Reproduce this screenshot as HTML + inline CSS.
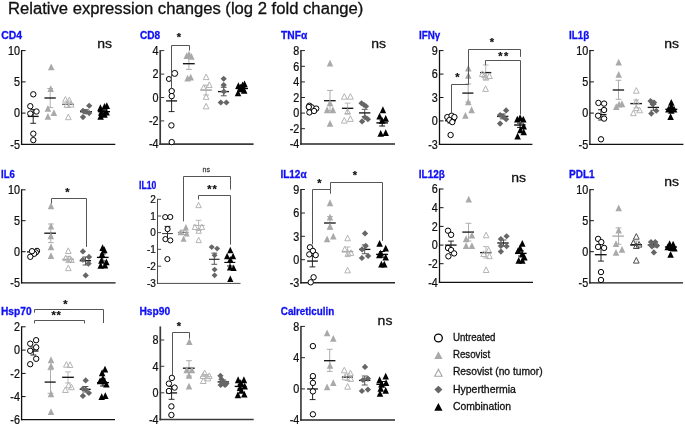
<!DOCTYPE html>
<html lang="en">
<head>
<meta charset="utf-8">
<title>Relative expression changes (log 2 fold change)</title>
<style>
html,body{margin:0;padding:0;background:#fff;}
body{width:685px;height:426px;overflow:hidden;font-family:"Liberation Sans",Arial,sans-serif;}
svg{display:block;}
</style>
</head>
<body>
<svg width="685" height="426" viewBox="0 0 685 426" font-family="Liberation Sans, Arial, Helvetica, sans-serif">
<rect width="685" height="426" fill="#fff"/>
<text x="8" y="13.8" font-size="15.8" fill="#111" stroke="#111" stroke-width="0.3" textLength="355.2" lengthAdjust="spacingAndGlyphs">Relative expression changes (log 2 fold change)</text>
<g>
<text x="1.2" y="38.7" font-size="10.2" fill="#1010f5" stroke="#1010f5" stroke-width="0.3" font-weight="bold" textLength="20.8" lengthAdjust="spacingAndGlyphs">CD4</text>
<line x1="21.6" y1="50.1" x2="21.6" y2="145.05" stroke="#111" stroke-width="1.3"/><line x1="20.95" y1="144.4" x2="115.3" y2="144.4" stroke="#111" stroke-width="1.3"/><line x1="21.6" y1="50.6" x2="25.6" y2="50.6" stroke="#111" stroke-width="1.0"/><text transform="translate(19.9 54.85) scale(0.9 1)" font-size="12" fill="#111" stroke="#111" stroke-width="0.25" text-anchor="end">10</text><line x1="21.6" y1="81.9" x2="25.6" y2="81.9" stroke="#111" stroke-width="1.0"/><text transform="translate(19.9 86.15) scale(0.9 1)" font-size="12" fill="#111" stroke="#111" stroke-width="0.25" text-anchor="end">5</text><line x1="21.6" y1="113.1" x2="25.6" y2="113.1" stroke="#111" stroke-width="1.0"/><text transform="translate(19.9 117.35) scale(0.9 1)" font-size="12" fill="#111" stroke="#111" stroke-width="0.25" text-anchor="end">0</text><text transform="translate(19.9 148.65) scale(0.9 1)" font-size="12" fill="#111" stroke="#111" stroke-width="0.25" text-anchor="end">-5</text>
<line x1="33.2" y1="109.6" x2="33.2" y2="123.3" stroke="#1a1a1a" stroke-width="0.95"/><line x1="30.3" y1="109.6" x2="36.1" y2="109.6" stroke="#1a1a1a" stroke-width="0.95"/><line x1="30.3" y1="123.3" x2="36.1" y2="123.3" stroke="#1a1a1a" stroke-width="0.95"/><line x1="27.7" y1="116.4" x2="38.7" y2="116.4" stroke="#1a1a1a" stroke-width="1.35"/><circle cx="33.3" cy="94.3" r="2.7" fill="#fff" stroke="#000000" stroke-width="1.0"/><circle cx="30.3" cy="106.2" r="2.7" fill="#fff" stroke="#000000" stroke-width="1.0"/><circle cx="36.5" cy="111.5" r="2.7" fill="#fff" stroke="#000000" stroke-width="1.0"/><circle cx="30.3" cy="113.6" r="2.7" fill="#fff" stroke="#000000" stroke-width="1.0"/><circle cx="33.3" cy="133.7" r="2.7" fill="#fff" stroke="#000000" stroke-width="1.0"/><circle cx="33.3" cy="140.1" r="2.7" fill="#fff" stroke="#000000" stroke-width="1.0"/>
<line x1="50.2" y1="88.5" x2="50.2" y2="107.6" stroke="#a9a9a9" stroke-width="0.95"/><line x1="47.3" y1="88.5" x2="53.1" y2="88.5" stroke="#a9a9a9" stroke-width="0.95"/><line x1="47.3" y1="107.6" x2="53.1" y2="107.6" stroke="#a9a9a9" stroke-width="0.95"/><line x1="44.4" y1="98" x2="55.8" y2="98" stroke="#1a1a1a" stroke-width="1.35"/><polygon points="51.2,63.55 47.95,70.35 54.45,70.35" fill="#a9a9a9"/><polygon points="50.7,85.25 47.45,92.05 53.95,92.05" fill="#a9a9a9"/><polygon points="47.9,104.95 44.65,111.75 51.15,111.75" fill="#a9a9a9"/><polygon points="53.9,109.25 50.65,116.05 57.15,116.05" fill="#a9a9a9"/><polygon points="47.9,113.05 44.65,119.85 51.15,119.85" fill="#a9a9a9"/>
<line x1="68" y1="101" x2="68" y2="107.5" stroke="#b4b4b4" stroke-width="0.95"/><line x1="65.1" y1="101" x2="70.9" y2="101" stroke="#b4b4b4" stroke-width="0.95"/><line x1="65.1" y1="107.5" x2="70.9" y2="107.5" stroke="#b4b4b4" stroke-width="0.95"/><line x1="62" y1="104.3" x2="74" y2="104.3" stroke="#777" stroke-width="1.35"/><polygon points="65.4,96.5 62.55,102.1 68.25,102.1" fill="none" stroke="#b4b4b4" stroke-width="1.0" stroke-linejoin="miter"/><polygon points="69.3,97.2 66.45,102.8 72.15,102.8" fill="none" stroke="#b4b4b4" stroke-width="1.0" stroke-linejoin="miter"/><polygon points="71.1,101.5 68.25,107.1 73.95,107.1" fill="none" stroke="#b4b4b4" stroke-width="1.0" stroke-linejoin="miter"/><polygon points="67,101.7 64.15,107.3 69.85,107.3" fill="none" stroke="#b4b4b4" stroke-width="1.0" stroke-linejoin="miter"/><polygon points="68.3,114.1 65.45,119.7 71.15,119.7" fill="none" stroke="#b4b4b4" stroke-width="1.0" stroke-linejoin="miter"/>
<line x1="86" y1="109.8" x2="86" y2="113.6" stroke="#4d4d4d" stroke-width="0.95"/><line x1="83.1" y1="109.8" x2="88.9" y2="109.8" stroke="#4d4d4d" stroke-width="0.95"/><line x1="83.1" y1="113.6" x2="88.9" y2="113.6" stroke="#4d4d4d" stroke-width="0.95"/><line x1="80" y1="111.7" x2="92" y2="111.7" stroke="#1a1a1a" stroke-width="1.35"/><polygon points="89.2,102.65 92.35,105.7 89.2,108.75 86.05,105.7" fill="#666666"/><polygon points="83,107.65 86.15,110.7 83,113.75 79.85,110.7" fill="#666666"/><polygon points="86.1,108.65 89.25,111.7 86.1,114.75 82.95,111.7" fill="#666666"/><polygon points="89.2,110.05 92.35,113.1 89.2,116.15 86.05,113.1" fill="#666666"/><polygon points="83,114.05 86.15,117.1 83,120.15 79.85,117.1" fill="#666666"/>
<line x1="104" y1="110.3" x2="104" y2="113.1" stroke="#000" stroke-width="0.95"/><line x1="101.1" y1="110.3" x2="106.9" y2="110.3" stroke="#000" stroke-width="0.95"/><line x1="101.1" y1="113.1" x2="106.9" y2="113.1" stroke="#000" stroke-width="0.95"/><line x1="98" y1="111.7" x2="110" y2="111.7" stroke="#000" stroke-width="1.35"/><polygon points="100.4,104.35 97.15,111.15 103.65,111.15" fill="#000000"/><polygon points="104.5,103.05 101.25,109.85 107.75,109.85" fill="#000000"/><polygon points="106.8,102.25 103.55,109.05 110.05,109.05" fill="#000000"/><polygon points="100.6,112.85 97.35,119.65 103.85,119.65" fill="#000000"/><polygon points="104.5,110.85 101.25,117.65 107.75,117.65" fill="#000000"/><polygon points="106.6,108.75 103.35,115.55 109.85,115.55" fill="#000000"/><polygon points="101.2,108.85 97.95,115.65 104.45,115.65" fill="#000000"/>
<text x="97.2" y="47.6" font-size="13" fill="#111" stroke="#111" stroke-width="0.3" textLength="14.8" lengthAdjust="spacingAndGlyphs">ns</text>
</g>
<g>
<text x="140" y="38.7" font-size="10.2" fill="#1010f5" stroke="#1010f5" stroke-width="0.3" font-weight="bold" textLength="20.2" lengthAdjust="spacingAndGlyphs">CD8</text>
<line x1="160.2" y1="50.1" x2="160.2" y2="145.05" stroke="#3a3a3a" stroke-width="1.7"/><line x1="159.35" y1="144.2" x2="253.6" y2="144.2" stroke="#3a3a3a" stroke-width="1.7"/><line x1="160.2" y1="50.6" x2="164.2" y2="50.6" stroke="#3a3a3a" stroke-width="1.0"/><text transform="translate(158.5 54.85) scale(0.9 1)" font-size="12" fill="#111" stroke="#111" stroke-width="0.25" text-anchor="end">4</text><line x1="160.2" y1="74.1" x2="164.2" y2="74.1" stroke="#3a3a3a" stroke-width="1.0"/><text transform="translate(158.5 78.35) scale(0.9 1)" font-size="12" fill="#111" stroke="#111" stroke-width="0.25" text-anchor="end">2</text><line x1="160.2" y1="97.5" x2="164.2" y2="97.5" stroke="#3a3a3a" stroke-width="1.0"/><text transform="translate(158.5 101.75) scale(0.9 1)" font-size="12" fill="#111" stroke="#111" stroke-width="0.25" text-anchor="end">0</text><line x1="160.2" y1="120.9" x2="164.2" y2="120.9" stroke="#3a3a3a" stroke-width="1.0"/><text transform="translate(158.5 125.15) scale(0.9 1)" font-size="12" fill="#111" stroke="#111" stroke-width="0.25" text-anchor="end">-2</text><text transform="translate(158.5 148.45) scale(0.9 1)" font-size="12" fill="#111" stroke="#111" stroke-width="0.25" text-anchor="end">-4</text>
<text x="178.9" y="40.9" font-size="11" fill="#111" stroke="#111" stroke-width="0.25" font-weight="bold" text-anchor="middle">*</text>
<line x1="171.6" y1="90.2" x2="171.6" y2="111.6" stroke="#1a1a1a" stroke-width="0.95"/><line x1="168.7" y1="90.2" x2="174.5" y2="90.2" stroke="#1a1a1a" stroke-width="0.95"/><line x1="168.7" y1="111.6" x2="174.5" y2="111.6" stroke="#1a1a1a" stroke-width="0.95"/><line x1="166.1" y1="100.9" x2="177.1" y2="100.9" stroke="#1a1a1a" stroke-width="1.35"/><circle cx="174.7" cy="73.4" r="3" fill="#fff" stroke="#000000" stroke-width="1.0"/><circle cx="168.9" cy="79" r="2.5" fill="#fff" stroke="#000000" stroke-width="1.0"/><circle cx="171.7" cy="91.1" r="2.7" fill="#fff" stroke="#000000" stroke-width="1.0"/><circle cx="171.7" cy="96.1" r="2.7" fill="#fff" stroke="#000000" stroke-width="1.0"/><circle cx="171.4" cy="125.4" r="2.7" fill="#fff" stroke="#000000" stroke-width="1.0"/><circle cx="171.7" cy="142.1" r="2.7" fill="#fff" stroke="#000000" stroke-width="1.0"/>
<line x1="188.9" y1="58" x2="188.9" y2="69.4" stroke="#a9a9a9" stroke-width="0.95"/><line x1="186" y1="58" x2="191.8" y2="58" stroke="#a9a9a9" stroke-width="0.95"/><line x1="186" y1="69.4" x2="191.8" y2="69.4" stroke="#a9a9a9" stroke-width="0.95"/><line x1="182.9" y1="63.7" x2="194.7" y2="63.7" stroke="#1a1a1a" stroke-width="1.35"/><polygon points="186.7,52.25 183.45,59.05 189.95,59.05" fill="#a9a9a9"/><polygon points="191.4,52.95 188.15,59.75 194.65,59.75" fill="#a9a9a9"/><polygon points="189,50.75 185.75,57.55 192.25,57.55" fill="#a9a9a9"/><polygon points="187.6,74.65 184.35,81.45 190.85,81.45" fill="#a9a9a9"/><polygon points="190.7,73.65 187.45,80.45 193.95,80.45" fill="#a9a9a9"/>
<line x1="206.1" y1="85.2" x2="206.1" y2="95" stroke="#b4b4b4" stroke-width="0.95"/><line x1="203.2" y1="85.2" x2="209" y2="85.2" stroke="#b4b4b4" stroke-width="0.95"/><line x1="203.2" y1="95" x2="209" y2="95" stroke="#b4b4b4" stroke-width="0.95"/><line x1="200.4" y1="90.1" x2="211.9" y2="90.1" stroke="#999" stroke-width="1.35"/><polygon points="206.1,74 203.25,79.6 208.95,79.6" fill="none" stroke="#b4b4b4" stroke-width="1.0" stroke-linejoin="miter"/><polygon points="209.3,81.9 206.45,87.5 212.15,87.5" fill="none" stroke="#b4b4b4" stroke-width="1.0" stroke-linejoin="miter"/><polygon points="203.6,84.7 200.75,90.3 206.45,90.3" fill="none" stroke="#b4b4b4" stroke-width="1.0" stroke-linejoin="miter"/><polygon points="206.1,93.8 203.25,99.4 208.95,99.4" fill="none" stroke="#b4b4b4" stroke-width="1.0" stroke-linejoin="miter"/><polygon points="206.1,103.3 203.25,108.9 208.95,108.9" fill="none" stroke="#b4b4b4" stroke-width="1.0" stroke-linejoin="miter"/>
<line x1="223.7" y1="87.3" x2="223.7" y2="95.8" stroke="#4d4d4d" stroke-width="0.95"/><line x1="220.8" y1="87.3" x2="226.6" y2="87.3" stroke="#4d4d4d" stroke-width="0.95"/><line x1="220.8" y1="95.8" x2="226.6" y2="95.8" stroke="#4d4d4d" stroke-width="0.95"/><line x1="217.9" y1="91.6" x2="229" y2="91.6" stroke="#1a1a1a" stroke-width="1.35"/><polygon points="223.7,75.65 226.85,78.7 223.7,81.75 220.55,78.7" fill="#666666"/><polygon points="223.7,82.05 226.85,85.1 223.7,88.15 220.55,85.1" fill="#666666"/><polygon points="223.9,88.55 227.05,91.6 223.9,94.65 220.75,91.6" fill="#666666"/><polygon points="220.8,99.45 223.95,102.5 220.8,105.55 217.65,102.5" fill="#666666"/><polygon points="226.4,99.45 229.55,102.5 226.4,105.55 223.25,102.5" fill="#666666"/>
<line x1="242" y1="87" x2="242" y2="90" stroke="#000" stroke-width="0.95"/><line x1="239.1" y1="87" x2="244.9" y2="87" stroke="#000" stroke-width="0.95"/><line x1="239.1" y1="90" x2="244.9" y2="90" stroke="#000" stroke-width="0.95"/><line x1="236" y1="88.5" x2="248" y2="88.5" stroke="#000" stroke-width="1.35"/><polygon points="238.4,82.25 235.15,89.05 241.65,89.05" fill="#000000"/><polygon points="242.6,81.55 239.35,88.35 245.85,88.35" fill="#000000"/><polygon points="244.5,80.45 241.25,87.25 247.75,87.25" fill="#000000"/><polygon points="244.2,86.85 240.95,93.65 247.45,93.65" fill="#000000"/><polygon points="238,89.45 234.75,96.25 241.25,96.25" fill="#000000"/><polygon points="241.2,85.35 237.95,92.15 244.45,92.15" fill="#000000"/><polygon points="240.5,83.85 237.25,90.65 243.75,90.65" fill="#000000"/>
<polyline points="171.5,88.5 171.5,45.5 189.5,45.5 189.5,50.5" fill="none" stroke="#555" stroke-width="1.0"/>
</g>
<g>
<text x="281" y="38.7" font-size="10.2" fill="#1010f5" stroke="#1010f5" stroke-width="0.3" font-weight="bold" textLength="26.2" lengthAdjust="spacingAndGlyphs">TNFα</text>
<line x1="300.95" y1="50.1" x2="300.95" y2="144.75" stroke="#262626" stroke-width="1.5"/><line x1="300.2" y1="144" x2="395" y2="144" stroke="#262626" stroke-width="1.5"/><line x1="300.95" y1="50.6" x2="304.95" y2="50.6" stroke="#262626" stroke-width="1.0"/><text transform="translate(299.25 54.85) scale(0.9 1)" font-size="12" fill="#111" stroke="#111" stroke-width="0.25" text-anchor="end">8</text><line x1="300.95" y1="66.3" x2="304.95" y2="66.3" stroke="#262626" stroke-width="1.0"/><text transform="translate(299.25 70.55) scale(0.9 1)" font-size="12" fill="#111" stroke="#111" stroke-width="0.25" text-anchor="end">6</text><line x1="300.95" y1="81.9" x2="304.95" y2="81.9" stroke="#262626" stroke-width="1.0"/><text transform="translate(299.25 86.15) scale(0.9 1)" font-size="12" fill="#111" stroke="#111" stroke-width="0.25" text-anchor="end">4</text><line x1="300.95" y1="97.5" x2="304.95" y2="97.5" stroke="#262626" stroke-width="1.0"/><text transform="translate(299.25 101.75) scale(0.9 1)" font-size="12" fill="#111" stroke="#111" stroke-width="0.25" text-anchor="end">2</text><line x1="300.95" y1="113.1" x2="304.95" y2="113.1" stroke="#262626" stroke-width="1.0"/><text transform="translate(299.25 117.35) scale(0.9 1)" font-size="12" fill="#111" stroke="#111" stroke-width="0.25" text-anchor="end">0</text><line x1="300.95" y1="128.7" x2="304.95" y2="128.7" stroke="#262626" stroke-width="1.0"/><text transform="translate(299.25 132.95) scale(0.9 1)" font-size="12" fill="#111" stroke="#111" stroke-width="0.25" text-anchor="end">-2</text><text transform="translate(299.25 148.25) scale(0.9 1)" font-size="12" fill="#111" stroke="#111" stroke-width="0.25" text-anchor="end">-4</text>
<line x1="312.5" y1="108.5" x2="312.5" y2="111" stroke="#1a1a1a" stroke-width="0.95"/><line x1="309.6" y1="108.5" x2="315.4" y2="108.5" stroke="#1a1a1a" stroke-width="0.95"/><line x1="309.6" y1="111" x2="315.4" y2="111" stroke="#1a1a1a" stroke-width="0.95"/><line x1="307" y1="109.8" x2="318" y2="109.8" stroke="#1a1a1a" stroke-width="1.35"/><circle cx="309.4" cy="105.7" r="2.7" fill="#fff" stroke="#000000" stroke-width="1.0"/><circle cx="311.8" cy="107.4" r="2.7" fill="#fff" stroke="#000000" stroke-width="1.0"/><circle cx="316.2" cy="108.6" r="2.7" fill="#fff" stroke="#000000" stroke-width="1.0"/><circle cx="309.4" cy="112.4" r="2.7" fill="#fff" stroke="#000000" stroke-width="1.0"/><circle cx="314.1" cy="111" r="2.7" fill="#fff" stroke="#000000" stroke-width="1.0"/><circle cx="308.8" cy="107" r="2.7" fill="#fff" stroke="#000000" stroke-width="1.0"/>
<line x1="330" y1="90.4" x2="330" y2="111" stroke="#a9a9a9" stroke-width="0.95"/><line x1="327.1" y1="90.4" x2="332.9" y2="90.4" stroke="#a9a9a9" stroke-width="0.95"/><line x1="327.1" y1="111" x2="332.9" y2="111" stroke="#a9a9a9" stroke-width="0.95"/><line x1="324" y1="100.7" x2="335.7" y2="100.7" stroke="#1a1a1a" stroke-width="1.35"/><polygon points="330,59.65 326.75,66.45 333.25,66.45" fill="#a9a9a9"/><polygon points="327.1,106.35 323.85,113.15 330.35,113.15" fill="#a9a9a9"/><polygon points="332.9,106.35 329.65,113.15 336.15,113.15" fill="#a9a9a9"/><polygon points="330,119.95 326.75,126.75 333.25,126.75" fill="#a9a9a9"/><polygon points="330,99.35 326.75,106.15 333.25,106.15" fill="#a9a9a9"/>
<line x1="347.6" y1="103.1" x2="347.6" y2="113.5" stroke="#b4b4b4" stroke-width="0.95"/><line x1="344.7" y1="103.1" x2="350.5" y2="103.1" stroke="#b4b4b4" stroke-width="0.95"/><line x1="344.7" y1="113.5" x2="350.5" y2="113.5" stroke="#b4b4b4" stroke-width="0.95"/><line x1="341.9" y1="108.3" x2="353.3" y2="108.3" stroke="#1a1a1a" stroke-width="1.35"/><polygon points="344.3,93.6 341.45,99.2 347.15,99.2" fill="none" stroke="#b4b4b4" stroke-width="1.0" stroke-linejoin="miter"/><polygon points="350.4,93.6 347.55,99.2 353.25,99.2" fill="none" stroke="#b4b4b4" stroke-width="1.0" stroke-linejoin="miter"/><polygon points="347.6,108.6 344.75,114.2 350.45,114.2" fill="none" stroke="#b4b4b4" stroke-width="1.0" stroke-linejoin="miter"/><polygon points="344.3,117.5 341.45,123.1 347.15,123.1" fill="none" stroke="#b4b4b4" stroke-width="1.0" stroke-linejoin="miter"/><polygon points="350.4,115.8 347.55,121.4 353.25,121.4" fill="none" stroke="#b4b4b4" stroke-width="1.0" stroke-linejoin="miter"/>
<line x1="364.7" y1="109.3" x2="364.7" y2="116.5" stroke="#4d4d4d" stroke-width="0.95"/><line x1="361.8" y1="109.3" x2="367.6" y2="109.3" stroke="#4d4d4d" stroke-width="0.95"/><line x1="361.8" y1="116.5" x2="367.6" y2="116.5" stroke="#4d4d4d" stroke-width="0.95"/><line x1="359" y1="112.9" x2="370.4" y2="112.9" stroke="#1a1a1a" stroke-width="1.35"/><polygon points="361.5,100.25 364.65,103.3 361.5,106.35 358.35,103.3" fill="#666666"/><polygon points="363.8,101.75 366.95,104.8 363.8,107.85 360.65,104.8" fill="#666666"/><polygon points="366,103.25 369.15,106.3 366,109.35 362.85,106.3" fill="#666666"/><polygon points="362.1,118.35 365.25,121.4 362.1,124.45 358.95,121.4" fill="#666666"/><polygon points="367.9,116.25 371.05,119.3 367.9,122.35 364.75,119.3" fill="#666666"/><polygon points="365,114.25 368.15,117.3 365,120.35 361.85,117.3" fill="#666666"/>
<line x1="382.2" y1="120" x2="382.2" y2="126" stroke="#000" stroke-width="0.95"/><line x1="379.3" y1="120" x2="385.1" y2="120" stroke="#000" stroke-width="0.95"/><line x1="379.3" y1="126" x2="385.1" y2="126" stroke="#000" stroke-width="0.95"/><line x1="376.4" y1="122.9" x2="387.9" y2="122.9" stroke="#000" stroke-width="1.35"/><polygon points="382.9,106.35 379.65,113.15 386.15,113.15" fill="#000000"/><polygon points="379.6,112.75 376.35,119.55 382.85,119.55" fill="#000000"/><polygon points="385.7,114.95 382.45,121.75 388.95,121.75" fill="#000000"/><polygon points="382.1,117.05 378.85,123.85 385.35,123.85" fill="#000000"/><polygon points="385.7,129.25 382.45,136.05 388.95,136.05" fill="#000000"/><polygon points="380.7,129.95 377.45,136.75 383.95,136.75" fill="#000000"/>
<text x="371.2" y="47.6" font-size="13" fill="#111" stroke="#111" stroke-width="0.3" textLength="14.8" lengthAdjust="spacingAndGlyphs">ns</text>
</g>
<g>
<text x="419" y="38.7" font-size="10.2" fill="#1010f5" stroke="#1010f5" stroke-width="0.3" font-weight="bold" textLength="21.2" lengthAdjust="spacingAndGlyphs">IFNγ</text>
<line x1="439.5" y1="50.1" x2="439.5" y2="144.95" stroke="#111" stroke-width="1.3"/><line x1="438.85" y1="144.3" x2="532.4" y2="144.3" stroke="#111" stroke-width="1.3"/><line x1="439.5" y1="50.6" x2="443.5" y2="50.6" stroke="#111" stroke-width="1.0"/><text transform="translate(437.8 54.85) scale(0.9 1)" font-size="12" fill="#111" stroke="#111" stroke-width="0.25" text-anchor="end">9</text><line x1="439.5" y1="74.1" x2="443.5" y2="74.1" stroke="#111" stroke-width="1.0"/><text transform="translate(437.8 78.35) scale(0.9 1)" font-size="12" fill="#111" stroke="#111" stroke-width="0.25" text-anchor="end">6</text><line x1="439.5" y1="97.5" x2="443.5" y2="97.5" stroke="#111" stroke-width="1.0"/><text transform="translate(437.8 101.75) scale(0.9 1)" font-size="12" fill="#111" stroke="#111" stroke-width="0.25" text-anchor="end">3</text><line x1="439.5" y1="120.9" x2="443.5" y2="120.9" stroke="#111" stroke-width="1.0"/><text transform="translate(437.8 125.15) scale(0.9 1)" font-size="12" fill="#111" stroke="#111" stroke-width="0.25" text-anchor="end">0</text><text transform="translate(437.8 148.55) scale(0.9 1)" font-size="12" fill="#111" stroke="#111" stroke-width="0.25" text-anchor="end">-3</text>
<line x1="450.5" y1="118.5" x2="450.5" y2="123" stroke="#1a1a1a" stroke-width="0.95"/><line x1="447.6" y1="118.5" x2="453.4" y2="118.5" stroke="#1a1a1a" stroke-width="0.95"/><line x1="447.6" y1="123" x2="453.4" y2="123" stroke="#1a1a1a" stroke-width="0.95"/><line x1="445" y1="120.7" x2="456" y2="120.7" stroke="#1a1a1a" stroke-width="1.35"/><circle cx="447.3" cy="117.1" r="2.7" fill="#fff" stroke="#000000" stroke-width="1.0"/><circle cx="451.6" cy="115.7" r="2.7" fill="#fff" stroke="#000000" stroke-width="1.0"/><circle cx="454.4" cy="117.1" r="2.7" fill="#fff" stroke="#000000" stroke-width="1.0"/><circle cx="449.4" cy="120" r="2.7" fill="#fff" stroke="#000000" stroke-width="1.0"/><circle cx="452.3" cy="122.1" r="2.7" fill="#fff" stroke="#000000" stroke-width="1.0"/><circle cx="450.6" cy="135" r="2.7" fill="#fff" stroke="#000000" stroke-width="1.0"/>
<line x1="468.2" y1="84" x2="468.2" y2="102" stroke="#a9a9a9" stroke-width="0.95"/><line x1="465.3" y1="84" x2="471.1" y2="84" stroke="#a9a9a9" stroke-width="0.95"/><line x1="465.3" y1="102" x2="471.1" y2="102" stroke="#a9a9a9" stroke-width="0.95"/><line x1="462.3" y1="93.1" x2="473.4" y2="93.1" stroke="#1a1a1a" stroke-width="1.35"/><polygon points="468.3,64.65 465.05,71.45 471.55,71.45" fill="#a9a9a9"/><polygon points="468.3,72.05 465.05,78.85 471.55,78.85" fill="#a9a9a9"/><polygon points="468.3,98.45 465.05,105.25 471.55,105.25" fill="#a9a9a9"/><polygon points="471.6,106.35 468.35,113.15 474.85,113.15" fill="#a9a9a9"/><polygon points="465.4,112.05 462.15,118.85 468.65,118.85" fill="#a9a9a9"/>
<line x1="485.7" y1="65" x2="485.7" y2="80" stroke="#b4b4b4" stroke-width="0.95"/><line x1="482.8" y1="65" x2="488.6" y2="65" stroke="#b4b4b4" stroke-width="0.95"/><line x1="482.8" y1="80" x2="488.6" y2="80" stroke="#b4b4b4" stroke-width="0.95"/><line x1="480.1" y1="72.6" x2="491.3" y2="72.6" stroke="#1a1a1a" stroke-width="1.35"/><polygon points="482.3,70.8 479.45,76.4 485.15,76.4" fill="none" stroke="#b4b4b4" stroke-width="1.0" stroke-linejoin="miter"/><polygon points="485.9,74.3 483.05,79.9 488.75,79.9" fill="none" stroke="#b4b4b4" stroke-width="1.0" stroke-linejoin="miter"/><polygon points="489.4,72.9 486.55,78.5 492.25,78.5" fill="none" stroke="#b4b4b4" stroke-width="1.0" stroke-linejoin="miter"/><polygon points="485.6,85.8 482.75,91.4 488.45,91.4" fill="none" stroke="#b4b4b4" stroke-width="1.0" stroke-linejoin="miter"/><polygon points="484.6,72 481.75,77.6 487.45,77.6" fill="none" stroke="#b4b4b4" stroke-width="1.0" stroke-linejoin="miter"/>
<line x1="502.8" y1="114" x2="502.8" y2="118.8" stroke="#4d4d4d" stroke-width="0.95"/><line x1="499.9" y1="114" x2="505.7" y2="114" stroke="#4d4d4d" stroke-width="0.95"/><line x1="499.9" y1="118.8" x2="505.7" y2="118.8" stroke="#4d4d4d" stroke-width="0.95"/><line x1="497" y1="116.4" x2="508.4" y2="116.4" stroke="#1a1a1a" stroke-width="1.35"/><polygon points="506.1,107.35 509.25,110.4 506.1,113.45 502.95,110.4" fill="#666666"/><polygon points="500.1,111.95 503.25,115 500.1,118.05 496.95,115" fill="#666666"/><polygon points="503,113.35 506.15,116.4 503,119.45 499.85,116.4" fill="#666666"/><polygon points="506.1,116.25 509.25,119.3 506.1,122.35 502.95,119.3" fill="#666666"/><polygon points="500.1,120.55 503.25,123.6 500.1,126.65 496.95,123.6" fill="#666666"/>
<line x1="520" y1="123.1" x2="520" y2="127.4" stroke="#000" stroke-width="0.95"/><line x1="517.1" y1="123.1" x2="522.9" y2="123.1" stroke="#000" stroke-width="0.95"/><line x1="517.1" y1="127.4" x2="522.9" y2="127.4" stroke="#000" stroke-width="0.95"/><line x1="514.1" y1="125" x2="525.5" y2="125" stroke="#000" stroke-width="1.35"/><polygon points="520.1,114.25 516.85,121.05 523.35,121.05" fill="#000000"/><polygon points="517.3,115.65 514.05,122.45 520.55,122.45" fill="#000000"/><polygon points="523.3,115.65 520.05,122.45 526.55,122.45" fill="#000000"/><polygon points="523.7,122.75 520.45,129.55 526.95,129.55" fill="#000000"/><polygon points="520.4,126.35 517.15,133.15 523.65,133.15" fill="#000000"/><polygon points="523.7,128.45 520.45,135.25 526.95,135.25" fill="#000000"/><polygon points="517.6,132.75 514.35,139.55 520.85,139.55" fill="#000000"/>
<text x="492" y="45.9" font-size="11" fill="#111" stroke="#111" stroke-width="0.25" font-weight="bold" text-anchor="middle">*</text>
<text x="500.3" y="60" font-size="11" fill="#111" stroke="#111" stroke-width="0.25" font-weight="bold" text-anchor="middle">*</text>
<text x="506.1" y="60" font-size="11" fill="#111" stroke="#111" stroke-width="0.25" font-weight="bold" text-anchor="middle">*</text>
<text x="457.4" y="81" font-size="11" fill="#111" stroke="#111" stroke-width="0.25" font-weight="bold" text-anchor="middle">*</text>
<polyline points="468.5,84.3 468.5,49.5 520.5,49.5 520.5,56.9" fill="none" stroke="#555" stroke-width="1.0"/>
<polyline points="485.5,65 485.5,60.5 520.5,60.5 520.5,114.5" fill="none" stroke="#555" stroke-width="1.0"/>
<polyline points="451.5,113.5 451.5,84.5 468.5,84.5 468.5,84.3" fill="none" stroke="#555" stroke-width="1.0"/>
</g>
<g>
<text x="569" y="38.7" font-size="10.2" fill="#1010f5" stroke="#1010f5" stroke-width="0.3" font-weight="bold" textLength="20.2" lengthAdjust="spacingAndGlyphs">IL1β</text>
<line x1="589.9" y1="50.1" x2="589.9" y2="144.95" stroke="#111" stroke-width="1.3"/><line x1="589.25" y1="144.3" x2="683.4" y2="144.3" stroke="#111" stroke-width="1.3"/><line x1="589.9" y1="50.6" x2="593.9" y2="50.6" stroke="#111" stroke-width="1.0"/><text transform="translate(588.2 54.85) scale(0.9 1)" font-size="12" fill="#111" stroke="#111" stroke-width="0.25" text-anchor="end">10</text><line x1="589.9" y1="81.9" x2="593.9" y2="81.9" stroke="#111" stroke-width="1.0"/><text transform="translate(588.2 86.15) scale(0.9 1)" font-size="12" fill="#111" stroke="#111" stroke-width="0.25" text-anchor="end">5</text><line x1="589.9" y1="113.1" x2="593.9" y2="113.1" stroke="#111" stroke-width="1.0"/><text transform="translate(588.2 117.35) scale(0.9 1)" font-size="12" fill="#111" stroke="#111" stroke-width="0.25" text-anchor="end">0</text><text transform="translate(588.2 148.55) scale(0.9 1)" font-size="12" fill="#111" stroke="#111" stroke-width="0.25" text-anchor="end">-5</text>
<line x1="601" y1="109.7" x2="601" y2="120" stroke="#1a1a1a" stroke-width="0.95"/><line x1="598.1" y1="109.7" x2="603.9" y2="109.7" stroke="#1a1a1a" stroke-width="0.95"/><line x1="598.1" y1="120" x2="603.9" y2="120" stroke="#1a1a1a" stroke-width="0.95"/><line x1="595.5" y1="114.6" x2="606.5" y2="114.6" stroke="#1a1a1a" stroke-width="1.35"/><circle cx="598.4" cy="102.9" r="2.7" fill="#fff" stroke="#000000" stroke-width="1.0"/><circle cx="604.1" cy="103.6" r="2.7" fill="#fff" stroke="#000000" stroke-width="1.0"/><circle cx="604.1" cy="110" r="2.7" fill="#fff" stroke="#000000" stroke-width="1.0"/><circle cx="598.1" cy="115.7" r="2.7" fill="#fff" stroke="#000000" stroke-width="1.0"/><circle cx="604.1" cy="118.6" r="2.7" fill="#fff" stroke="#000000" stroke-width="1.0"/><circle cx="601" cy="139.3" r="2.7" fill="#fff" stroke="#000000" stroke-width="1.0"/>
<line x1="618.5" y1="80.3" x2="618.5" y2="99.3" stroke="#a9a9a9" stroke-width="0.95"/><line x1="615.6" y1="80.3" x2="621.4" y2="80.3" stroke="#a9a9a9" stroke-width="0.95"/><line x1="615.6" y1="99.3" x2="621.4" y2="99.3" stroke="#a9a9a9" stroke-width="0.95"/><line x1="612.7" y1="90" x2="624.1" y2="90" stroke="#1a1a1a" stroke-width="1.35"/><polygon points="618.7,58.75 615.45,65.55 621.95,65.55" fill="#a9a9a9"/><polygon points="618.7,70.95 615.45,77.75 621.95,77.75" fill="#a9a9a9"/><polygon points="616.3,103.25 613.05,110.05 619.55,110.05" fill="#a9a9a9"/><polygon points="619.1,100.65 615.85,107.45 622.35,107.45" fill="#a9a9a9"/><polygon points="622,100.35 618.75,107.15 625.25,107.15" fill="#a9a9a9"/>
<line x1="636.3" y1="100" x2="636.3" y2="107.9" stroke="#b4b4b4" stroke-width="0.95"/><line x1="633.4" y1="100" x2="639.2" y2="100" stroke="#b4b4b4" stroke-width="0.95"/><line x1="633.4" y1="107.9" x2="639.2" y2="107.9" stroke="#b4b4b4" stroke-width="0.95"/><line x1="630.3" y1="103.6" x2="642" y2="103.6" stroke="#1a1a1a" stroke-width="1.35"/><polygon points="636.3,87.6 633.45,93.2 639.15,93.2" fill="none" stroke="#b4b4b4" stroke-width="1.0" stroke-linejoin="miter"/><polygon points="636.3,98.6 633.45,104.2 639.15,104.2" fill="none" stroke="#b4b4b4" stroke-width="1.0" stroke-linejoin="miter"/><polygon points="636.3,105.1 633.45,110.7 639.15,110.7" fill="none" stroke="#b4b4b4" stroke-width="1.0" stroke-linejoin="miter"/><polygon points="639.6,107.2 636.75,112.8 642.45,112.8" fill="none" stroke="#b4b4b4" stroke-width="1.0" stroke-linejoin="miter"/><polygon points="633.4,110.1 630.55,115.7 636.25,115.7" fill="none" stroke="#b4b4b4" stroke-width="1.0" stroke-linejoin="miter"/>
<line x1="653.4" y1="104.5" x2="653.4" y2="110.3" stroke="#4d4d4d" stroke-width="0.95"/><line x1="650.5" y1="104.5" x2="656.3" y2="104.5" stroke="#4d4d4d" stroke-width="0.95"/><line x1="650.5" y1="110.3" x2="656.3" y2="110.3" stroke="#4d4d4d" stroke-width="0.95"/><line x1="647.7" y1="107.4" x2="659.1" y2="107.4" stroke="#1a1a1a" stroke-width="1.35"/><polygon points="650.6,98.05 653.75,101.1 650.6,104.15 647.45,101.1" fill="#666666"/><polygon points="654.1,99.55 657.25,102.6 654.1,105.65 650.95,102.6" fill="#666666"/><polygon points="652.7,101.25 655.85,104.3 652.7,107.35 649.55,104.3" fill="#666666"/><polygon points="656.3,107.65 659.45,110.7 656.3,113.75 653.15,110.7" fill="#666666"/><polygon points="651.3,110.55 654.45,113.6 651.3,116.65 648.15,113.6" fill="#666666"/>
<line x1="671.3" y1="107.3" x2="671.3" y2="111.3" stroke="#000" stroke-width="0.95"/><line x1="668.4" y1="107.3" x2="674.2" y2="107.3" stroke="#000" stroke-width="0.95"/><line x1="668.4" y1="111.3" x2="674.2" y2="111.3" stroke="#000" stroke-width="0.95"/><line x1="665.3" y1="109.3" x2="677.3" y2="109.3" stroke="#000" stroke-width="1.35"/><polygon points="671.3,98.95 668.05,105.75 674.55,105.75" fill="#000000"/><polygon points="671.3,102.75 668.05,109.55 674.55,109.55" fill="#000000"/><polygon points="668.4,105.65 665.15,112.45 671.65,112.45" fill="#000000"/><polygon points="674.1,105.65 670.85,112.45 677.35,112.45" fill="#000000"/><polygon points="671.3,107.05 668.05,113.85 674.55,113.85" fill="#000000"/><polygon points="670.6,113.25 667.35,120.05 673.85,120.05" fill="#000000"/>
<text x="664.2" y="47.6" font-size="13" fill="#111" stroke="#111" stroke-width="0.3" textLength="14.8" lengthAdjust="spacingAndGlyphs">ns</text>
</g>
<g>
<text x="1" y="177.7" font-size="10.2" fill="#1010f5" stroke="#1010f5" stroke-width="0.3" font-weight="bold" textLength="13.8" lengthAdjust="spacingAndGlyphs">IL6</text>
<line x1="21.6" y1="189.3" x2="21.6" y2="283.45" stroke="#111" stroke-width="1.3"/><line x1="20.95" y1="282.8" x2="115.6" y2="282.8" stroke="#111" stroke-width="1.3"/><line x1="21.6" y1="189.8" x2="25.6" y2="189.8" stroke="#111" stroke-width="1.0"/><text transform="translate(19.9 194.05) scale(0.9 1)" font-size="12" fill="#111" stroke="#111" stroke-width="0.25" text-anchor="end">10</text><line x1="21.6" y1="220.7" x2="25.6" y2="220.7" stroke="#111" stroke-width="1.0"/><text transform="translate(19.9 224.95) scale(0.9 1)" font-size="12" fill="#111" stroke="#111" stroke-width="0.25" text-anchor="end">5</text><line x1="21.6" y1="251.7" x2="25.6" y2="251.7" stroke="#111" stroke-width="1.0"/><text transform="translate(19.9 255.95) scale(0.9 1)" font-size="12" fill="#111" stroke="#111" stroke-width="0.25" text-anchor="end">0</text><text transform="translate(19.9 287.05) scale(0.9 1)" font-size="12" fill="#111" stroke="#111" stroke-width="0.25" text-anchor="end">-5</text>
<text x="67.4" y="195.5" font-size="11" fill="#111" stroke="#111" stroke-width="0.25" font-weight="bold" text-anchor="middle">*</text>
<line x1="33" y1="250.6" x2="33" y2="253.4" stroke="#1a1a1a" stroke-width="0.95"/><line x1="30.1" y1="250.6" x2="35.9" y2="250.6" stroke="#1a1a1a" stroke-width="0.95"/><line x1="30.1" y1="253.4" x2="35.9" y2="253.4" stroke="#1a1a1a" stroke-width="0.95"/><line x1="27" y1="251.9" x2="39" y2="251.9" stroke="#1a1a1a" stroke-width="1.35"/><circle cx="37" cy="250.9" r="2.7" fill="#fff" stroke="#000000" stroke-width="1.0"/><circle cx="35.8" cy="252.4" r="2.7" fill="#fff" stroke="#000000" stroke-width="1.0"/><circle cx="34.1" cy="253.8" r="2.7" fill="#fff" stroke="#000000" stroke-width="1.0"/><circle cx="30.3" cy="256.8" r="2.7" fill="#fff" stroke="#000000" stroke-width="1.0"/><circle cx="32" cy="251.2" r="2.7" fill="#fff" stroke="#000000" stroke-width="1.0"/>
<line x1="50.8" y1="224" x2="50.8" y2="242.6" stroke="#a9a9a9" stroke-width="0.95"/><line x1="47.9" y1="224" x2="53.7" y2="224" stroke="#a9a9a9" stroke-width="0.95"/><line x1="47.9" y1="242.6" x2="53.7" y2="242.6" stroke="#a9a9a9" stroke-width="0.95"/><line x1="44.3" y1="233.2" x2="56" y2="233.2" stroke="#1a1a1a" stroke-width="1.35"/><polygon points="51,202.45 47.75,209.25 54.25,209.25" fill="#a9a9a9"/><polygon points="51,222.75 47.75,229.55 54.25,229.55" fill="#a9a9a9"/><polygon points="50.8,232.35 47.55,239.15 54.05,239.15" fill="#a9a9a9"/><polygon points="51,243.55 47.75,250.35 54.25,250.35" fill="#a9a9a9"/><polygon points="51,252.15 47.75,258.95 54.25,258.95" fill="#a9a9a9"/>
<line x1="68.2" y1="256.4" x2="68.2" y2="262.6" stroke="#b4b4b4" stroke-width="0.95"/><line x1="65.3" y1="256.4" x2="71.1" y2="256.4" stroke="#b4b4b4" stroke-width="0.95"/><line x1="65.3" y1="262.6" x2="71.1" y2="262.6" stroke="#b4b4b4" stroke-width="0.95"/><line x1="62.1" y1="259.3" x2="74" y2="259.3" stroke="#aaa" stroke-width="1.35"/><polygon points="68.3,247.9 65.45,253.5 71.15,253.5" fill="none" stroke="#b4b4b4" stroke-width="1.0" stroke-linejoin="miter"/><polygon points="65.7,255.1 62.85,260.7 68.55,260.7" fill="none" stroke="#b4b4b4" stroke-width="1.0" stroke-linejoin="miter"/><polygon points="69.3,255.8 66.45,261.4 72.15,261.4" fill="none" stroke="#b4b4b4" stroke-width="1.0" stroke-linejoin="miter"/><polygon points="71.4,256.9 68.55,262.5 74.25,262.5" fill="none" stroke="#b4b4b4" stroke-width="1.0" stroke-linejoin="miter"/><polygon points="68.3,265.1 65.45,270.7 71.15,270.7" fill="none" stroke="#b4b4b4" stroke-width="1.0" stroke-linejoin="miter"/>
<line x1="85.5" y1="257" x2="85.5" y2="265" stroke="#4d4d4d" stroke-width="0.95"/><line x1="82.6" y1="257" x2="88.4" y2="257" stroke="#4d4d4d" stroke-width="0.95"/><line x1="82.6" y1="265" x2="88.4" y2="265" stroke="#4d4d4d" stroke-width="0.95"/><line x1="79.7" y1="260.7" x2="91.1" y2="260.7" stroke="#1a1a1a" stroke-width="1.35"/><polygon points="82.9,248.35 86.05,251.4 82.9,254.45 79.75,251.4" fill="#666666"/><polygon points="89,253.85 92.15,256.9 89,259.95 85.85,256.9" fill="#666666"/><polygon points="82.9,256.65 86.05,259.7 82.9,262.75 79.75,259.7" fill="#666666"/><polygon points="88.6,260.55 91.75,263.6 88.6,266.65 85.45,263.6" fill="#666666"/><polygon points="85.7,272.35 88.85,275.4 85.7,278.45 82.55,275.4" fill="#666666"/>
<line x1="102.8" y1="254" x2="102.8" y2="261" stroke="#000" stroke-width="0.95"/><line x1="99.9" y1="254" x2="105.7" y2="254" stroke="#000" stroke-width="0.95"/><line x1="99.9" y1="261" x2="105.7" y2="261" stroke="#000" stroke-width="0.95"/><line x1="96.9" y1="257.4" x2="108.6" y2="257.4" stroke="#000" stroke-width="1.35"/><polygon points="102.6,244.25 99.35,251.05 105.85,251.05" fill="#000000"/><polygon points="104.3,246.35 101.05,253.15 107.55,253.15" fill="#000000"/><polygon points="102.1,250.65 98.85,257.45 105.35,257.45" fill="#000000"/><polygon points="101.4,257.05 98.15,263.85 104.65,263.85" fill="#000000"/><polygon points="106.4,258.45 103.15,265.25 109.65,265.25" fill="#000000"/><polygon points="100.7,262.05 97.45,268.85 103.95,268.85" fill="#000000"/><polygon points="105,261.75 101.75,268.55 108.25,268.55" fill="#000000"/>
<polyline points="51.5,203.5 51.5,198.5 86.5,198.5 86.5,246.9" fill="none" stroke="#555" stroke-width="1.0"/>
</g>
<g>
<text x="139" y="188.8" font-size="10.3" fill="#1010f5" stroke="#1010f5" stroke-width="0.3" font-weight="bold" textLength="17.3" lengthAdjust="spacingAndGlyphs">IL10</text>
<line x1="157.5" y1="198.8" x2="157.5" y2="283.9" stroke="#4a4a4a" stroke-width="1.0"/><line x1="157" y1="283.4" x2="240.5" y2="283.4" stroke="#4a4a4a" stroke-width="1.0"/><line x1="157.5" y1="199.3" x2="161.1" y2="199.3" stroke="#4a4a4a" stroke-width="1.0"/><text transform="translate(155.9 202.9) scale(0.93 1)" font-size="10.8" fill="#111" stroke="#111" stroke-width="0.25" text-anchor="end">2</text><line x1="157.5" y1="216" x2="161.1" y2="216" stroke="#4a4a4a" stroke-width="1.0"/><text transform="translate(155.9 219.6) scale(0.93 1)" font-size="10.8" fill="#111" stroke="#111" stroke-width="0.25" text-anchor="end">1</text><line x1="157.5" y1="232.6" x2="161.1" y2="232.6" stroke="#4a4a4a" stroke-width="1.0"/><text transform="translate(155.9 236.2) scale(0.93 1)" font-size="10.8" fill="#111" stroke="#111" stroke-width="0.25" text-anchor="end">0</text><line x1="157.5" y1="249.3" x2="161.1" y2="249.3" stroke="#4a4a4a" stroke-width="1.0"/><text transform="translate(155.9 252.9) scale(0.93 1)" font-size="10.8" fill="#111" stroke="#111" stroke-width="0.25" text-anchor="end">-1</text><line x1="157.5" y1="266.2" x2="161.1" y2="266.2" stroke="#4a4a4a" stroke-width="1.0"/><text transform="translate(155.9 269.8) scale(0.93 1)" font-size="10.8" fill="#111" stroke="#111" stroke-width="0.25" text-anchor="end">-2</text><text transform="translate(155.9 287) scale(0.93 1)" font-size="10.8" fill="#111" stroke="#111" stroke-width="0.25" text-anchor="end">-3</text>
<text x="202.5" y="172.1" font-size="8" fill="#444" stroke="#444" stroke-width="0.3" textLength="7.4" lengthAdjust="spacingAndGlyphs">ns</text>
<text x="209.3" y="193.4" font-size="11" fill="#111" stroke="#111" stroke-width="0.25" font-weight="bold" text-anchor="middle">*</text>
<text x="214.7" y="193.4" font-size="11" fill="#111" stroke="#111" stroke-width="0.25" font-weight="bold" text-anchor="middle">*</text>
<line x1="167.5" y1="226.4" x2="167.5" y2="240.4" stroke="#1a1a1a" stroke-width="0.95"/><line x1="164.6" y1="226.4" x2="170.4" y2="226.4" stroke="#1a1a1a" stroke-width="0.95"/><line x1="164.6" y1="240.4" x2="170.4" y2="240.4" stroke="#1a1a1a" stroke-width="0.95"/><line x1="162.1" y1="233.6" x2="172.9" y2="233.6" stroke="#333" stroke-width="1.0"/><circle cx="165.2" cy="217.1" r="2.56" fill="#fff" stroke="#000000" stroke-width="1.0"/><circle cx="170.3" cy="217" r="2.56" fill="#fff" stroke="#000000" stroke-width="1.0"/><circle cx="167.6" cy="229.1" r="2.56" fill="#fff" stroke="#000000" stroke-width="1.0"/><circle cx="165.4" cy="239.1" r="2.56" fill="#fff" stroke="#000000" stroke-width="1.0"/><circle cx="170.3" cy="240.4" r="2.56" fill="#fff" stroke="#000000" stroke-width="1.0"/><circle cx="167.4" cy="259.1" r="2.56" fill="#fff" stroke="#000000" stroke-width="1.0"/>
<line x1="183.3" y1="230.3" x2="183.3" y2="234.5" stroke="#a9a9a9" stroke-width="0.95"/><line x1="180.4" y1="230.3" x2="186.2" y2="230.3" stroke="#a9a9a9" stroke-width="0.95"/><line x1="180.4" y1="234.5" x2="186.2" y2="234.5" stroke="#a9a9a9" stroke-width="0.95"/><line x1="177.9" y1="232.3" x2="188.6" y2="232.3" stroke="#666" stroke-width="1.0"/><polygon points="185.9,224.12 182.91,230.38 188.89,230.38" fill="#a9a9a9"/><polygon points="180.6,229.02 177.61,235.28 183.59,235.28" fill="#a9a9a9"/><polygon points="186.7,230.22 183.71,236.48 189.69,236.48" fill="#a9a9a9"/><polygon points="183.6,235.52 180.61,241.78 186.59,241.78" fill="#a9a9a9"/>
<line x1="198.6" y1="220.3" x2="198.6" y2="230.5" stroke="#b4b4b4" stroke-width="0.95"/><line x1="195.7" y1="220.3" x2="201.5" y2="220.3" stroke="#b4b4b4" stroke-width="0.95"/><line x1="195.7" y1="230.5" x2="201.5" y2="230.5" stroke="#b4b4b4" stroke-width="0.95"/><line x1="193" y1="225.4" x2="204.7" y2="225.4" stroke="#b0b0b0" stroke-width="1.0"/><polygon points="198.6,202.34 195.89,207.66 201.31,207.66" fill="none" stroke="#b4b4b4" stroke-width="1.0" stroke-linejoin="miter"/><polygon points="194.9,224.14 192.19,229.46 197.61,229.46" fill="none" stroke="#b4b4b4" stroke-width="1.0" stroke-linejoin="miter"/><polygon points="201.9,224.14 199.19,229.46 204.61,229.46" fill="none" stroke="#b4b4b4" stroke-width="1.0" stroke-linejoin="miter"/><polygon points="198.7,227.94 195.99,233.26 201.41,233.26" fill="none" stroke="#b4b4b4" stroke-width="1.0" stroke-linejoin="miter"/><polygon points="198.7,237.34 195.99,242.66 201.41,242.66" fill="none" stroke="#b4b4b4" stroke-width="1.0" stroke-linejoin="miter"/>
<line x1="214.3" y1="253.1" x2="214.3" y2="264.3" stroke="#4d4d4d" stroke-width="0.95"/><line x1="211.4" y1="253.1" x2="217.2" y2="253.1" stroke="#4d4d4d" stroke-width="0.95"/><line x1="211.4" y1="264.3" x2="217.2" y2="264.3" stroke="#4d4d4d" stroke-width="0.95"/><line x1="209" y1="259.3" x2="219.6" y2="259.3" stroke="#1a1a1a" stroke-width="1.1"/><polygon points="211.7,244.2 214.69,247.1 211.7,250 208.71,247.1" fill="#666666"/><polygon points="217.1,245.7 220.09,248.6 217.1,251.5 214.11,248.6" fill="#666666"/><polygon points="214.6,252.4 217.59,255.3 214.6,258.2 211.61,255.3" fill="#666666"/><polygon points="214.6,266.7 217.59,269.6 214.6,272.5 211.61,269.6" fill="#666666"/><polygon points="214.6,272.4 217.59,275.3 214.6,278.2 211.61,275.3" fill="#666666"/>
<line x1="230" y1="258.5" x2="230" y2="266" stroke="#000" stroke-width="0.95"/><line x1="227.1" y1="258.5" x2="232.9" y2="258.5" stroke="#000" stroke-width="0.95"/><line x1="227.1" y1="266" x2="232.9" y2="266" stroke="#000" stroke-width="0.95"/><line x1="224.3" y1="262.4" x2="235.3" y2="262.4" stroke="#000" stroke-width="1.1"/><polygon points="230.3,246.82 227.21,253.28 233.39,253.28" fill="#000000"/><polygon points="227.1,252.82 224.01,259.28 230.19,259.28" fill="#000000"/><polygon points="233.1,252.82 230.01,259.28 236.19,259.28" fill="#000000"/><polygon points="230.3,256.12 227.21,262.58 233.39,262.58" fill="#000000"/><polygon points="230,263.92 226.91,270.38 233.09,270.38" fill="#000000"/><polygon points="233.6,264.62 230.51,271.08 236.69,271.08" fill="#000000"/><polygon points="230.3,275.42 227.21,281.88 233.39,281.88" fill="#000000"/>
<polyline points="183.5,221.4 183.5,176.5 230.5,176.5 230.5,189.6" fill="none" stroke="#555" stroke-width="1.0"/>
<polyline points="198.5,199.5 198.5,195.5 230.5,195.5 230.5,244.6" fill="none" stroke="#555" stroke-width="1.0"/>
</g>
<g>
<text x="280.4" y="177.7" font-size="10.2" fill="#1010f5" stroke="#1010f5" stroke-width="0.3" font-weight="bold" textLength="26.2" lengthAdjust="spacingAndGlyphs">IL12α</text>
<line x1="300.95" y1="189" x2="300.95" y2="283.55" stroke="#262626" stroke-width="1.5"/><line x1="300.2" y1="282.8" x2="395" y2="282.8" stroke="#262626" stroke-width="1.5"/><line x1="300.95" y1="189.5" x2="304.95" y2="189.5" stroke="#262626" stroke-width="1.0"/><text transform="translate(299.25 193.75) scale(0.9 1)" font-size="12" fill="#111" stroke="#111" stroke-width="0.25" text-anchor="end">9</text><line x1="300.95" y1="213" x2="304.95" y2="213" stroke="#262626" stroke-width="1.0"/><text transform="translate(299.25 217.25) scale(0.9 1)" font-size="12" fill="#111" stroke="#111" stroke-width="0.25" text-anchor="end">6</text><line x1="300.95" y1="236.3" x2="304.95" y2="236.3" stroke="#262626" stroke-width="1.0"/><text transform="translate(299.25 240.55) scale(0.9 1)" font-size="12" fill="#111" stroke="#111" stroke-width="0.25" text-anchor="end">3</text><line x1="300.95" y1="259.7" x2="304.95" y2="259.7" stroke="#262626" stroke-width="1.0"/><text transform="translate(299.25 263.95) scale(0.9 1)" font-size="12" fill="#111" stroke="#111" stroke-width="0.25" text-anchor="end">0</text><text transform="translate(299.25 287.05) scale(0.9 1)" font-size="12" fill="#111" stroke="#111" stroke-width="0.25" text-anchor="end">-3</text>
<text x="319.3" y="186.8" font-size="11" fill="#111" stroke="#111" stroke-width="0.25" font-weight="bold" text-anchor="middle">*</text>
<text x="355" y="179.2" font-size="11" fill="#111" stroke="#111" stroke-width="0.25" font-weight="bold" text-anchor="middle">*</text>
<line x1="312.4" y1="255.3" x2="312.4" y2="266.9" stroke="#1a1a1a" stroke-width="0.95"/><line x1="309.5" y1="255.3" x2="315.3" y2="255.3" stroke="#1a1a1a" stroke-width="0.95"/><line x1="309.5" y1="266.9" x2="315.3" y2="266.9" stroke="#1a1a1a" stroke-width="0.95"/><line x1="307.1" y1="261.1" x2="317.9" y2="261.1" stroke="#1a1a1a" stroke-width="1.35"/><circle cx="310" cy="247.3" r="2.7" fill="#fff" stroke="#000000" stroke-width="1.0"/><circle cx="312.9" cy="250.9" r="2.7" fill="#fff" stroke="#000000" stroke-width="1.0"/><circle cx="309.3" cy="254.4" r="2.7" fill="#fff" stroke="#000000" stroke-width="1.0"/><circle cx="315.7" cy="255.1" r="2.7" fill="#fff" stroke="#000000" stroke-width="1.0"/><circle cx="313.6" cy="277.3" r="2.7" fill="#fff" stroke="#000000" stroke-width="1.0"/><circle cx="310.7" cy="282.3" r="2.7" fill="#fff" stroke="#000000" stroke-width="1.0"/>
<line x1="330" y1="216.6" x2="330" y2="229.4" stroke="#a9a9a9" stroke-width="0.95"/><line x1="327.1" y1="216.6" x2="332.9" y2="216.6" stroke="#a9a9a9" stroke-width="0.95"/><line x1="327.1" y1="229.4" x2="332.9" y2="229.4" stroke="#a9a9a9" stroke-width="0.95"/><line x1="324" y1="223" x2="335.7" y2="223" stroke="#1a1a1a" stroke-width="1.35"/><polygon points="330,199.35 326.75,206.15 333.25,206.15" fill="#a9a9a9"/><polygon points="330,213.65 326.75,220.45 333.25,220.45" fill="#a9a9a9"/><polygon points="330,222.65 326.75,229.45 333.25,229.45" fill="#a9a9a9"/><polygon points="333.3,232.65 330.05,239.45 336.55,239.45" fill="#a9a9a9"/><polygon points="327.1,235.45 323.85,242.25 330.35,242.25" fill="#a9a9a9"/>
<line x1="347.6" y1="247" x2="347.6" y2="256.6" stroke="#b4b4b4" stroke-width="0.95"/><line x1="344.7" y1="247" x2="350.5" y2="247" stroke="#b4b4b4" stroke-width="0.95"/><line x1="344.7" y1="256.6" x2="350.5" y2="256.6" stroke="#b4b4b4" stroke-width="0.95"/><line x1="341.9" y1="251.6" x2="353.3" y2="251.6" stroke="#999" stroke-width="1.35"/><polygon points="347.6,235.2 344.75,240.8 350.45,240.8" fill="none" stroke="#b4b4b4" stroke-width="1.0" stroke-linejoin="miter"/><polygon points="344.7,246.3 341.85,251.9 347.55,251.9" fill="none" stroke="#b4b4b4" stroke-width="1.0" stroke-linejoin="miter"/><polygon points="348.1,250.2 345.25,255.8 350.95,255.8" fill="none" stroke="#b4b4b4" stroke-width="1.0" stroke-linejoin="miter"/><polygon points="351,249.8 348.15,255.4 353.85,255.4" fill="none" stroke="#b4b4b4" stroke-width="1.0" stroke-linejoin="miter"/><polygon points="347.6,267.3 344.75,272.9 350.45,272.9" fill="none" stroke="#b4b4b4" stroke-width="1.0" stroke-linejoin="miter"/>
<line x1="364.7" y1="244.9" x2="364.7" y2="253.7" stroke="#4d4d4d" stroke-width="0.95"/><line x1="361.8" y1="244.9" x2="367.6" y2="244.9" stroke="#4d4d4d" stroke-width="0.95"/><line x1="361.8" y1="253.7" x2="367.6" y2="253.7" stroke="#4d4d4d" stroke-width="0.95"/><line x1="359" y1="249.4" x2="370.4" y2="249.4" stroke="#1a1a1a" stroke-width="1.35"/><polygon points="365,230.35 368.15,233.4 365,236.45 361.85,233.4" fill="#666666"/><polygon points="365.7,242.85 368.85,245.9 365.7,248.95 362.55,245.9" fill="#666666"/><polygon points="362.1,246.35 365.25,249.4 362.1,252.45 358.95,249.4" fill="#666666"/><polygon points="368.1,252.85 371.25,255.9 368.1,258.95 364.95,255.9" fill="#666666"/><polygon points="361.9,254.95 365.05,258 361.9,261.05 358.75,258" fill="#666666"/>
<line x1="382" y1="251.5" x2="382" y2="257.3" stroke="#000" stroke-width="0.95"/><line x1="379.1" y1="251.5" x2="384.9" y2="251.5" stroke="#000" stroke-width="0.95"/><line x1="379.1" y1="257.3" x2="384.9" y2="257.3" stroke="#000" stroke-width="0.95"/><line x1="376.1" y1="254.4" x2="387.9" y2="254.4" stroke="#000" stroke-width="1.35"/><polygon points="379.6,240.05 376.35,246.85 382.85,246.85" fill="#000000"/><polygon points="385.7,244.75 382.45,251.55 388.95,251.55" fill="#000000"/><polygon points="380.7,249.75 377.45,256.55 383.95,256.55" fill="#000000"/><polygon points="379.3,251.45 376.05,258.25 382.55,258.25" fill="#000000"/><polygon points="385.7,253.65 382.45,260.45 388.95,260.45" fill="#000000"/><polygon points="381.4,260.75 378.15,267.55 384.65,267.55" fill="#000000"/><polygon points="384.3,260.75 381.05,267.55 387.55,267.55" fill="#000000"/>
<polyline points="312.5,244.4 312.5,189.5 330.5,189.5 330.5,193.7" fill="none" stroke="#555" stroke-width="1.0"/>
<polyline points="330.5,189.4 330.5,182.5 382.5,182.5 382.5,240.9" fill="none" stroke="#555" stroke-width="1.0"/>
</g>
<g>
<text x="418.8" y="177.7" font-size="10.2" fill="#1010f5" stroke="#1010f5" stroke-width="0.3" font-weight="bold" textLength="26" lengthAdjust="spacingAndGlyphs">IL12β</text>
<line x1="439.5" y1="188.5" x2="439.5" y2="283.05" stroke="#111" stroke-width="1.3"/><line x1="438.85" y1="282.4" x2="533" y2="282.4" stroke="#111" stroke-width="1.3"/><line x1="439.5" y1="189" x2="443.5" y2="189" stroke="#111" stroke-width="1.0"/><text transform="translate(437.8 193.25) scale(0.9 1)" font-size="12" fill="#111" stroke="#111" stroke-width="0.25" text-anchor="end">6</text><line x1="439.5" y1="207.7" x2="443.5" y2="207.7" stroke="#111" stroke-width="1.0"/><text transform="translate(437.8 211.95) scale(0.9 1)" font-size="12" fill="#111" stroke="#111" stroke-width="0.25" text-anchor="end">4</text><line x1="439.5" y1="226.4" x2="443.5" y2="226.4" stroke="#111" stroke-width="1.0"/><text transform="translate(437.8 230.65) scale(0.9 1)" font-size="12" fill="#111" stroke="#111" stroke-width="0.25" text-anchor="end">2</text><line x1="439.5" y1="245.1" x2="443.5" y2="245.1" stroke="#111" stroke-width="1.0"/><text transform="translate(437.8 249.35) scale(0.9 1)" font-size="12" fill="#111" stroke="#111" stroke-width="0.25" text-anchor="end">0</text><line x1="439.5" y1="263.7" x2="443.5" y2="263.7" stroke="#111" stroke-width="1.0"/><text transform="translate(437.8 267.95) scale(0.9 1)" font-size="12" fill="#111" stroke="#111" stroke-width="0.25" text-anchor="end">-2</text><text transform="translate(437.8 286.65) scale(0.9 1)" font-size="12" fill="#111" stroke="#111" stroke-width="0.25" text-anchor="end">-4</text>
<line x1="451" y1="241.1" x2="451" y2="249" stroke="#1a1a1a" stroke-width="0.95"/><line x1="448.1" y1="241.1" x2="453.9" y2="241.1" stroke="#1a1a1a" stroke-width="0.95"/><line x1="448.1" y1="249" x2="453.9" y2="249" stroke="#1a1a1a" stroke-width="0.95"/><line x1="445.1" y1="245.1" x2="456.6" y2="245.1" stroke="#1a1a1a" stroke-width="1.35"/><circle cx="448" cy="230.7" r="2.7" fill="#fff" stroke="#000000" stroke-width="1.0"/><circle cx="451.1" cy="234.8" r="2.7" fill="#fff" stroke="#000000" stroke-width="1.0"/><circle cx="448" cy="248" r="2.7" fill="#fff" stroke="#000000" stroke-width="1.0"/><circle cx="451.1" cy="250.1" r="2.7" fill="#fff" stroke="#000000" stroke-width="1.0"/><circle cx="454.1" cy="253.4" r="2.7" fill="#fff" stroke="#000000" stroke-width="1.0"/><circle cx="448.4" cy="256.3" r="2.7" fill="#fff" stroke="#000000" stroke-width="1.0"/>
<line x1="468.5" y1="223.3" x2="468.5" y2="241" stroke="#a9a9a9" stroke-width="0.95"/><line x1="465.6" y1="223.3" x2="471.4" y2="223.3" stroke="#a9a9a9" stroke-width="0.95"/><line x1="465.6" y1="241" x2="471.4" y2="241" stroke="#a9a9a9" stroke-width="0.95"/><line x1="462.3" y1="232.1" x2="474" y2="232.1" stroke="#1a1a1a" stroke-width="1.35"/><polygon points="468.7,195.65 465.45,202.45 471.95,202.45" fill="#a9a9a9"/><polygon points="471.9,231.65 468.65,238.45 475.15,238.45" fill="#a9a9a9"/><polygon points="466.1,235.35 462.85,242.15 469.35,242.15" fill="#a9a9a9"/><polygon points="466.1,242.25 462.85,249.05 469.35,249.05" fill="#a9a9a9"/><polygon points="471.9,242.25 468.65,249.05 475.15,249.05" fill="#a9a9a9"/>
<line x1="486" y1="246.6" x2="486" y2="258" stroke="#b4b4b4" stroke-width="0.95"/><line x1="483.1" y1="246.6" x2="488.9" y2="246.6" stroke="#b4b4b4" stroke-width="0.95"/><line x1="483.1" y1="258" x2="488.9" y2="258" stroke="#b4b4b4" stroke-width="0.95"/><line x1="480.1" y1="252.6" x2="491.6" y2="252.6" stroke="#1a1a1a" stroke-width="1.35"/><polygon points="486.1,232.2 483.25,237.8 488.95,237.8" fill="none" stroke="#b4b4b4" stroke-width="1.0" stroke-linejoin="miter"/><polygon points="488.7,247.3 485.85,252.9 491.55,252.9" fill="none" stroke="#b4b4b4" stroke-width="1.0" stroke-linejoin="miter"/><polygon points="483.7,250.9 480.85,256.5 486.55,256.5" fill="none" stroke="#b4b4b4" stroke-width="1.0" stroke-linejoin="miter"/><polygon points="489.4,253.1 486.55,258.7 492.25,258.7" fill="none" stroke="#b4b4b4" stroke-width="1.0" stroke-linejoin="miter"/><polygon points="486.1,266.9 483.25,272.5 488.95,272.5" fill="none" stroke="#b4b4b4" stroke-width="1.0" stroke-linejoin="miter"/>
<line x1="503.5" y1="240" x2="503.5" y2="246" stroke="#4d4d4d" stroke-width="0.95"/><line x1="500.6" y1="240" x2="506.4" y2="240" stroke="#4d4d4d" stroke-width="0.95"/><line x1="500.6" y1="246" x2="506.4" y2="246" stroke="#4d4d4d" stroke-width="0.95"/><line x1="497.3" y1="243" x2="508.7" y2="243" stroke="#1a1a1a" stroke-width="1.35"/><polygon points="506.6,233.25 509.75,236.3 506.6,239.35 503.45,236.3" fill="#666666"/><polygon points="500.9,236.05 504.05,239.1 500.9,242.15 497.75,239.1" fill="#666666"/><polygon points="500.9,242.85 504.05,245.9 500.9,248.95 497.75,245.9" fill="#666666"/><polygon points="506.6,243.25 509.75,246.3 506.6,249.35 503.45,246.3" fill="#666666"/><polygon points="500.9,248.55 504.05,251.6 500.9,254.65 497.75,251.6" fill="#666666"/>
<line x1="521" y1="251" x2="521" y2="256" stroke="#000" stroke-width="0.95"/><line x1="518.1" y1="251" x2="523.9" y2="251" stroke="#000" stroke-width="0.95"/><line x1="518.1" y1="256" x2="523.9" y2="256" stroke="#000" stroke-width="0.95"/><line x1="515.1" y1="253.4" x2="526.6" y2="253.4" stroke="#000" stroke-width="1.35"/><polygon points="522.3,240.05 519.05,246.85 525.55,246.85" fill="#000000"/><polygon points="520.1,244.35 516.85,251.15 523.35,251.15" fill="#000000"/><polygon points="518,247.25 514.75,254.05 521.25,254.05" fill="#000000"/><polygon points="522.3,250.75 519.05,257.55 525.55,257.55" fill="#000000"/><polygon points="524.4,253.65 521.15,260.45 527.65,260.45" fill="#000000"/><polygon points="518.7,256.95 515.45,263.75 521.95,263.75" fill="#000000"/><polygon points="522.3,256.95 519.05,263.75 525.55,263.75" fill="#000000"/>
<text x="511.2" y="181.6" font-size="13" fill="#111" stroke="#111" stroke-width="0.3" textLength="14.8" lengthAdjust="spacingAndGlyphs">ns</text>
</g>
<g>
<text x="569" y="177.7" font-size="10.2" fill="#1010f5" stroke="#1010f5" stroke-width="0.3" font-weight="bold" textLength="25.6" lengthAdjust="spacingAndGlyphs">PDL1</text>
<line x1="589.9" y1="189.2" x2="589.9" y2="283.45" stroke="#111" stroke-width="1.3"/><line x1="589.25" y1="282.8" x2="683" y2="282.8" stroke="#111" stroke-width="1.3"/><line x1="589.9" y1="189.7" x2="593.9" y2="189.7" stroke="#111" stroke-width="1.0"/><text transform="translate(588.2 193.95) scale(0.9 1)" font-size="12" fill="#111" stroke="#111" stroke-width="0.25" text-anchor="end">10</text><line x1="589.9" y1="220.7" x2="593.9" y2="220.7" stroke="#111" stroke-width="1.0"/><text transform="translate(588.2 224.95) scale(0.9 1)" font-size="12" fill="#111" stroke="#111" stroke-width="0.25" text-anchor="end">5</text><line x1="589.9" y1="251.7" x2="593.9" y2="251.7" stroke="#111" stroke-width="1.0"/><text transform="translate(588.2 255.95) scale(0.9 1)" font-size="12" fill="#111" stroke="#111" stroke-width="0.25" text-anchor="end">0</text><text transform="translate(588.2 287.05) scale(0.9 1)" font-size="12" fill="#111" stroke="#111" stroke-width="0.25" text-anchor="end">-5</text>
<line x1="601" y1="248.3" x2="601" y2="261.1" stroke="#1a1a1a" stroke-width="0.95"/><line x1="598.1" y1="248.3" x2="603.9" y2="248.3" stroke="#1a1a1a" stroke-width="0.95"/><line x1="598.1" y1="261.1" x2="603.9" y2="261.1" stroke="#1a1a1a" stroke-width="0.95"/><line x1="594.9" y1="254.7" x2="606.7" y2="254.7" stroke="#1a1a1a" stroke-width="1.35"/><circle cx="598.1" cy="238.9" r="2.7" fill="#fff" stroke="#000000" stroke-width="1.0"/><circle cx="601.3" cy="242.1" r="2.7" fill="#fff" stroke="#000000" stroke-width="1.0"/><circle cx="598.1" cy="246.9" r="2.7" fill="#fff" stroke="#000000" stroke-width="1.0"/><circle cx="604.1" cy="247.9" r="2.7" fill="#fff" stroke="#000000" stroke-width="1.0"/><circle cx="601" cy="272.1" r="2.7" fill="#fff" stroke="#000000" stroke-width="1.0"/><circle cx="601" cy="280" r="2.7" fill="#fff" stroke="#000000" stroke-width="1.0"/>
<line x1="618.5" y1="227.9" x2="618.5" y2="244.3" stroke="#a9a9a9" stroke-width="0.95"/><line x1="615.6" y1="227.9" x2="621.4" y2="227.9" stroke="#a9a9a9" stroke-width="0.95"/><line x1="615.6" y1="244.3" x2="621.4" y2="244.3" stroke="#a9a9a9" stroke-width="0.95"/><line x1="612.4" y1="236.1" x2="623.9" y2="236.1" stroke="#a9a9a9" stroke-width="1.35"/><polygon points="618.7,204.45 615.45,211.25 621.95,211.25" fill="#a9a9a9"/><polygon points="618.7,226.75 615.45,233.55 621.95,233.55" fill="#a9a9a9"/><polygon points="616,240.25 612.75,247.05 619.25,247.05" fill="#a9a9a9"/><polygon points="622,246.05 618.75,252.85 625.25,252.85" fill="#a9a9a9"/><polygon points="616,248.95 612.75,255.75 619.25,255.75" fill="#a9a9a9"/>
<line x1="636.3" y1="241" x2="636.3" y2="248.5" stroke="#b4b4b4" stroke-width="0.95"/><line x1="633.4" y1="241" x2="639.2" y2="241" stroke="#b4b4b4" stroke-width="0.95"/><line x1="633.4" y1="248.5" x2="639.2" y2="248.5" stroke="#b4b4b4" stroke-width="0.95"/><line x1="630.3" y1="244.7" x2="642" y2="244.7" stroke="#1a1a1a" stroke-width="1.35"/><polygon points="636.3,233.6 633.45,239.2 639.15,239.2" fill="none" stroke="#4a4a4a" stroke-width="1.0" stroke-linejoin="miter"/><polygon points="633.4,239.8 630.55,245.4 636.25,245.4" fill="none" stroke="#4a4a4a" stroke-width="1.0" stroke-linejoin="miter"/><polygon points="639.1,241.5 636.25,247.1 641.95,247.1" fill="none" stroke="#4a4a4a" stroke-width="1.0" stroke-linejoin="miter"/><polygon points="636.3,242.9 633.45,248.5 639.15,248.5" fill="none" stroke="#4a4a4a" stroke-width="1.0" stroke-linejoin="miter"/><polygon points="636.3,257.5 633.45,263.1 639.15,263.1" fill="none" stroke="#4a4a4a" stroke-width="1.0" stroke-linejoin="miter"/>
<line x1="653.5" y1="243" x2="653.5" y2="247" stroke="#4d4d4d" stroke-width="0.95"/><line x1="650.6" y1="243" x2="656.4" y2="243" stroke="#4d4d4d" stroke-width="0.95"/><line x1="650.6" y1="247" x2="656.4" y2="247" stroke="#4d4d4d" stroke-width="0.95"/><line x1="647.7" y1="245" x2="659.1" y2="245" stroke="#1a1a1a" stroke-width="1.35"/><polygon points="651,239.05 654.15,242.1 651,245.15 647.85,242.1" fill="#666666"/><polygon points="655.3,239.05 658.45,242.1 655.3,245.15 652.15,242.1" fill="#666666"/><polygon points="657,242.65 660.15,245.7 657,248.75 653.85,245.7" fill="#666666"/><polygon points="652,243.35 655.15,246.4 652,249.45 648.85,246.4" fill="#666666"/><polygon points="653.9,249.35 657.05,252.4 653.9,255.45 650.75,252.4" fill="#666666"/>
<line x1="671" y1="245.5" x2="671" y2="248.5" stroke="#000" stroke-width="0.95"/><line x1="668.1" y1="245.5" x2="673.9" y2="245.5" stroke="#000" stroke-width="0.95"/><line x1="668.1" y1="248.5" x2="673.9" y2="248.5" stroke="#000" stroke-width="0.95"/><line x1="664.9" y1="247" x2="677" y2="247" stroke="#000" stroke-width="1.35"/><polygon points="669.6,240.35 666.35,247.15 672.85,247.15" fill="#000000"/><polygon points="673.1,240.65 669.85,247.45 676.35,247.45" fill="#000000"/><polygon points="667.7,243.45 664.45,250.25 670.95,250.25" fill="#000000"/><polygon points="671.3,244.25 668.05,251.05 674.55,251.05" fill="#000000"/><polygon points="674.4,244.65 671.15,251.45 677.65,251.45" fill="#000000"/><polygon points="670.6,250.95 667.35,257.75 673.85,257.75" fill="#000000"/>
<text x="664.2" y="186.4" font-size="13" fill="#111" stroke="#111" stroke-width="0.3" textLength="14.8" lengthAdjust="spacingAndGlyphs">ns</text>
</g>
<g>
<text x="1" y="315.1" font-size="10.2" fill="#1010f5" stroke="#1010f5" stroke-width="0.3" font-weight="bold" textLength="30.6" lengthAdjust="spacingAndGlyphs">Hsp70</text>
<line x1="21.6" y1="326.3" x2="21.6" y2="420.25" stroke="#111" stroke-width="1.3"/><line x1="20.95" y1="419.6" x2="115" y2="419.6" stroke="#111" stroke-width="1.3"/><line x1="21.6" y1="326.8" x2="25.6" y2="326.8" stroke="#111" stroke-width="1.0"/><text transform="translate(19.9 331.05) scale(0.9 1)" font-size="12" fill="#111" stroke="#111" stroke-width="0.25" text-anchor="end">2</text><line x1="21.6" y1="350.1" x2="25.6" y2="350.1" stroke="#111" stroke-width="1.0"/><text transform="translate(19.9 354.35) scale(0.9 1)" font-size="12" fill="#111" stroke="#111" stroke-width="0.25" text-anchor="end">0</text><line x1="21.6" y1="373.4" x2="25.6" y2="373.4" stroke="#111" stroke-width="1.0"/><text transform="translate(19.9 377.65) scale(0.9 1)" font-size="12" fill="#111" stroke="#111" stroke-width="0.25" text-anchor="end">-2</text><line x1="21.6" y1="396.6" x2="25.6" y2="396.6" stroke="#111" stroke-width="1.0"/><text transform="translate(19.9 400.85) scale(0.9 1)" font-size="12" fill="#111" stroke="#111" stroke-width="0.25" text-anchor="end">-4</text><text transform="translate(19.9 423.85) scale(0.9 1)" font-size="12" fill="#111" stroke="#111" stroke-width="0.25" text-anchor="end">-6</text>
<text x="65.5" y="308.3" font-size="11" fill="#111" stroke="#111" stroke-width="0.25" font-weight="bold" text-anchor="middle">*</text>
<text x="53.6" y="318.5" font-size="11" fill="#111" stroke="#111" stroke-width="0.25" font-weight="bold" text-anchor="middle">*</text>
<text x="58.6" y="318.5" font-size="11" fill="#111" stroke="#111" stroke-width="0.25" font-weight="bold" text-anchor="middle">*</text>
<line x1="33.3" y1="347" x2="33.3" y2="355" stroke="#1a1a1a" stroke-width="0.95"/><line x1="30.4" y1="347" x2="36.2" y2="347" stroke="#1a1a1a" stroke-width="0.95"/><line x1="30.4" y1="355" x2="36.2" y2="355" stroke="#1a1a1a" stroke-width="0.95"/><line x1="27.5" y1="351" x2="38.5" y2="351" stroke="#1a1a1a" stroke-width="1.35"/><circle cx="36.1" cy="340.2" r="2.7" fill="#fff" stroke="#000000" stroke-width="1.0"/><circle cx="30.2" cy="343.7" r="2.7" fill="#fff" stroke="#000000" stroke-width="1.0"/><circle cx="36.2" cy="347.3" r="2.7" fill="#fff" stroke="#000000" stroke-width="1.0"/><circle cx="30.2" cy="350.8" r="2.7" fill="#fff" stroke="#000000" stroke-width="1.0"/><circle cx="36.2" cy="358.8" r="2.7" fill="#fff" stroke="#000000" stroke-width="1.0"/><circle cx="30.2" cy="364.2" r="2.7" fill="#fff" stroke="#000000" stroke-width="1.0"/>
<line x1="50.5" y1="369.7" x2="50.5" y2="393.3" stroke="#a9a9a9" stroke-width="0.95"/><line x1="47.6" y1="369.7" x2="53.4" y2="369.7" stroke="#a9a9a9" stroke-width="0.95"/><line x1="47.6" y1="393.3" x2="53.4" y2="393.3" stroke="#a9a9a9" stroke-width="0.95"/><line x1="44.6" y1="382.1" x2="55.7" y2="382.1" stroke="#1a1a1a" stroke-width="1.35"/><polygon points="51,356.35 47.75,363.15 54.25,363.15" fill="#a9a9a9"/><polygon points="51,362.45 47.75,369.25 54.25,369.25" fill="#a9a9a9"/><polygon points="51,390.35 47.75,397.15 54.25,397.15" fill="#a9a9a9"/><polygon points="51,408.25 47.75,415.05 54.25,415.05" fill="#a9a9a9"/>
<line x1="68" y1="371.9" x2="68" y2="383" stroke="#b4b4b4" stroke-width="0.95"/><line x1="65.1" y1="371.9" x2="70.9" y2="371.9" stroke="#b4b4b4" stroke-width="0.95"/><line x1="65.1" y1="383" x2="70.9" y2="383" stroke="#b4b4b4" stroke-width="0.95"/><line x1="62.1" y1="377.3" x2="73.9" y2="377.3" stroke="#1a1a1a" stroke-width="1.35"/><polygon points="66.4,361.6 63.55,367.2 69.25,367.2" fill="none" stroke="#b4b4b4" stroke-width="1.0" stroke-linejoin="miter"/><polygon points="70,361.9 67.15,367.5 72.85,367.5" fill="none" stroke="#b4b4b4" stroke-width="1.0" stroke-linejoin="miter"/><polygon points="68.6,382.2 65.75,387.8 71.45,387.8" fill="none" stroke="#b4b4b4" stroke-width="1.0" stroke-linejoin="miter"/><polygon points="71.4,384.1 68.55,389.7 74.25,389.7" fill="none" stroke="#b4b4b4" stroke-width="1.0" stroke-linejoin="miter"/><polygon points="65.4,386.9 62.55,392.5 68.25,392.5" fill="none" stroke="#b4b4b4" stroke-width="1.0" stroke-linejoin="miter"/>
<line x1="85.5" y1="386.5" x2="85.5" y2="392" stroke="#4d4d4d" stroke-width="0.95"/><line x1="82.6" y1="386.5" x2="88.4" y2="386.5" stroke="#4d4d4d" stroke-width="0.95"/><line x1="82.6" y1="392" x2="88.4" y2="392" stroke="#4d4d4d" stroke-width="0.95"/><line x1="79.7" y1="389.3" x2="90.7" y2="389.3" stroke="#1a1a1a" stroke-width="1.35"/><polygon points="85.7,377.35 88.85,380.4 85.7,383.45 82.55,380.4" fill="#666666"/><polygon points="82.9,385.65 86.05,388.7 82.9,391.75 79.75,388.7" fill="#666666"/><polygon points="86,386.65 89.15,389.7 86,392.75 82.85,389.7" fill="#666666"/><polygon points="88.9,389.95 92.05,393 88.9,396.05 85.75,393" fill="#666666"/><polygon points="82.9,392.85 86.05,395.9 82.9,398.95 79.75,395.9" fill="#666666"/>
<line x1="103" y1="379" x2="103" y2="386" stroke="#000" stroke-width="0.95"/><line x1="100.1" y1="379" x2="105.9" y2="379" stroke="#000" stroke-width="0.95"/><line x1="100.1" y1="386" x2="105.9" y2="386" stroke="#000" stroke-width="0.95"/><line x1="97.1" y1="382.6" x2="109" y2="382.6" stroke="#000" stroke-width="1.35"/><polygon points="105,365.65 101.75,372.45 108.25,372.45" fill="#000000"/><polygon points="102.1,369.35 98.85,376.15 105.35,376.15" fill="#000000"/><polygon points="102.9,374.65 99.65,381.45 106.15,381.45" fill="#000000"/><polygon points="100,377.45 96.75,384.25 103.25,384.25" fill="#000000"/><polygon points="104.3,377.45 101.05,384.25 107.55,384.25" fill="#000000"/><polygon points="106.4,380.75 103.15,387.55 109.65,387.55" fill="#000000"/><polygon points="101.7,393.25 98.45,400.05 104.95,400.05" fill="#000000"/><polygon points="105.3,392.25 102.05,399.05 108.55,399.05" fill="#000000"/>
<polyline points="34.5,312.7 34.5,309.5 103.5,309.5 103.5,323" fill="none" stroke="#555" stroke-width="1.0"/>
<polyline points="34.5,323.4 34.5,320.5 84.5,320.5 84.5,323.4" fill="none" stroke="#555" stroke-width="1.0"/>
</g>
<g>
<text x="139.4" y="315.1" font-size="10.2" fill="#1010f5" stroke="#1010f5" stroke-width="0.3" font-weight="bold" textLength="30.8" lengthAdjust="spacingAndGlyphs">Hsp90</text>
<line x1="160.3" y1="326.4" x2="160.3" y2="420.35" stroke="#3a3a3a" stroke-width="1.7"/><line x1="159.45" y1="419.5" x2="253.7" y2="419.5" stroke="#3a3a3a" stroke-width="1.7"/><line x1="160.3" y1="340" x2="164.3" y2="340" stroke="#3a3a3a" stroke-width="1.0"/><text transform="translate(158.6 344.25) scale(0.9 1)" font-size="12" fill="#111" stroke="#111" stroke-width="0.25" text-anchor="end">8</text><line x1="160.3" y1="366.3" x2="164.3" y2="366.3" stroke="#3a3a3a" stroke-width="1.0"/><text transform="translate(158.6 370.55) scale(0.9 1)" font-size="12" fill="#111" stroke="#111" stroke-width="0.25" text-anchor="end">4</text><line x1="160.3" y1="392.8" x2="164.3" y2="392.8" stroke="#3a3a3a" stroke-width="1.0"/><text transform="translate(158.6 397.05) scale(0.9 1)" font-size="12" fill="#111" stroke="#111" stroke-width="0.25" text-anchor="end">0</text><text transform="translate(158.6 423.75) scale(0.9 1)" font-size="12" fill="#111" stroke="#111" stroke-width="0.25" text-anchor="end">-4</text>
<text x="178.9" y="329.8" font-size="11" fill="#111" stroke="#111" stroke-width="0.25" font-weight="bold" text-anchor="middle">*</text>
<line x1="171.6" y1="386.5" x2="171.6" y2="399.3" stroke="#1a1a1a" stroke-width="0.95"/><line x1="168.7" y1="386.5" x2="174.5" y2="386.5" stroke="#1a1a1a" stroke-width="0.95"/><line x1="168.7" y1="399.3" x2="174.5" y2="399.3" stroke="#1a1a1a" stroke-width="0.95"/><line x1="166.1" y1="392.9" x2="177.1" y2="392.9" stroke="#1a1a1a" stroke-width="1.35"/><circle cx="171.9" cy="377.9" r="2.7" fill="#fff" stroke="#000000" stroke-width="1.0"/><circle cx="168.9" cy="383.6" r="2.7" fill="#fff" stroke="#000000" stroke-width="1.0"/><circle cx="174.6" cy="387.6" r="2.7" fill="#fff" stroke="#000000" stroke-width="1.0"/><circle cx="168.9" cy="391" r="2.7" fill="#fff" stroke="#000000" stroke-width="1.0"/><circle cx="171.4" cy="406.4" r="2.7" fill="#fff" stroke="#000000" stroke-width="1.0"/><circle cx="171.4" cy="415" r="2.7" fill="#fff" stroke="#000000" stroke-width="1.0"/>
<line x1="189" y1="360.7" x2="189" y2="376" stroke="#a9a9a9" stroke-width="0.95"/><line x1="186.1" y1="360.7" x2="191.9" y2="360.7" stroke="#a9a9a9" stroke-width="0.95"/><line x1="186.1" y1="376" x2="191.9" y2="376" stroke="#a9a9a9" stroke-width="0.95"/><line x1="182.9" y1="368.2" x2="194.7" y2="368.2" stroke="#1a1a1a" stroke-width="1.35"/><polygon points="189.3,338.25 186.05,345.05 192.55,345.05" fill="#a9a9a9"/><polygon points="186.7,366.35 183.45,373.15 189.95,373.15" fill="#a9a9a9"/><polygon points="191.9,366.35 188.65,373.15 195.15,373.15" fill="#a9a9a9"/><polygon points="189,372.05 185.75,378.85 192.25,378.85" fill="#a9a9a9"/><polygon points="189,382.75 185.75,389.55 192.25,389.55" fill="#a9a9a9"/>
<line x1="206" y1="374.5" x2="206" y2="378.5" stroke="#b4b4b4" stroke-width="0.95"/><line x1="203.1" y1="374.5" x2="208.9" y2="374.5" stroke="#b4b4b4" stroke-width="0.95"/><line x1="203.1" y1="378.5" x2="208.9" y2="378.5" stroke="#b4b4b4" stroke-width="0.95"/><line x1="200" y1="376.5" x2="212" y2="376.5" stroke="#c4c4c4" stroke-width="1.0"/><polygon points="204.7,370.1 201.85,375.7 207.55,375.7" fill="none" stroke="#b4b4b4" stroke-width="1.0" stroke-linejoin="miter"/><polygon points="202.9,372.9 200.05,378.5 205.75,378.5" fill="none" stroke="#b4b4b4" stroke-width="1.0" stroke-linejoin="miter"/><polygon points="209.3,372.9 206.45,378.5 212.15,378.5" fill="none" stroke="#b4b4b4" stroke-width="1.0" stroke-linejoin="miter"/><polygon points="207.9,375.3 205.05,380.9 210.75,380.9" fill="none" stroke="#b4b4b4" stroke-width="1.0" stroke-linejoin="miter"/><polygon points="203.3,377.9 200.45,383.5 206.15,383.5" fill="none" stroke="#b4b4b4" stroke-width="1.0" stroke-linejoin="miter"/>
<line x1="223.3" y1="380" x2="223.3" y2="384" stroke="#4d4d4d" stroke-width="0.95"/><line x1="220.4" y1="380" x2="226.2" y2="380" stroke="#4d4d4d" stroke-width="0.95"/><line x1="220.4" y1="384" x2="226.2" y2="384" stroke="#4d4d4d" stroke-width="0.95"/><line x1="217.6" y1="381.9" x2="229" y2="381.9" stroke="#1a1a1a" stroke-width="1.35"/><polygon points="220.4,372.65 223.55,375.7 220.4,378.75 217.25,375.7" fill="#666666"/><polygon points="221.4,376.25 224.55,379.3 221.4,382.35 218.25,379.3" fill="#666666"/><polygon points="223.6,379.05 226.75,382.1 223.6,385.15 220.45,382.1" fill="#666666"/><polygon points="226.4,380.55 229.55,383.6 226.4,386.65 223.25,383.6" fill="#666666"/><polygon points="220.7,381.95 223.85,385 220.7,388.05 217.55,385" fill="#666666"/><polygon points="225,381.95 228.15,385 225,388.05 221.85,385" fill="#666666"/>
<line x1="240.6" y1="384.3" x2="240.6" y2="388.6" stroke="#000" stroke-width="0.95"/><line x1="237.7" y1="384.3" x2="243.5" y2="384.3" stroke="#000" stroke-width="0.95"/><line x1="237.7" y1="388.6" x2="243.5" y2="388.6" stroke="#000" stroke-width="0.95"/><line x1="234.7" y1="386.4" x2="246.4" y2="386.4" stroke="#000" stroke-width="1.35"/><polygon points="238.1,376.35 234.85,383.15 241.35,383.15" fill="#000000"/><polygon points="243.9,376.35 240.65,383.15 247.15,383.15" fill="#000000"/><polygon points="240.7,379.25 237.45,386.05 243.95,386.05" fill="#000000"/><polygon points="244.7,382.75 241.45,389.55 247.95,389.55" fill="#000000"/><polygon points="240,384.25 236.75,391.05 243.25,391.05" fill="#000000"/><polygon points="237.9,391.35 234.65,398.15 241.15,398.15" fill="#000000"/><polygon points="244.3,390.65 241.05,397.45 247.55,397.45" fill="#000000"/><polygon points="241.4,387.05 238.15,393.85 244.65,393.85" fill="#000000"/>
<polyline points="172.5,375.5 172.5,332.5 189.5,332.5 189.5,338.6" fill="none" stroke="#555" stroke-width="1.0"/>
</g>
<g>
<text x="280.8" y="315.1" font-size="10.2" fill="#1010f5" stroke="#1010f5" stroke-width="0.3" font-weight="bold" textLength="53.4" lengthAdjust="spacingAndGlyphs">Calreticulin</text>
<line x1="300.95" y1="325.9" x2="300.95" y2="420.75" stroke="#262626" stroke-width="1.5"/><line x1="300.2" y1="420" x2="395" y2="420" stroke="#262626" stroke-width="1.5"/><line x1="300.95" y1="326.4" x2="304.95" y2="326.4" stroke="#262626" stroke-width="1.0"/><text transform="translate(299.25 330.65) scale(0.9 1)" font-size="12" fill="#111" stroke="#111" stroke-width="0.25" text-anchor="end">8</text><line x1="300.95" y1="357.7" x2="304.95" y2="357.7" stroke="#262626" stroke-width="1.0"/><text transform="translate(299.25 361.95) scale(0.9 1)" font-size="12" fill="#111" stroke="#111" stroke-width="0.25" text-anchor="end">4</text><line x1="300.95" y1="388.9" x2="304.95" y2="388.9" stroke="#262626" stroke-width="1.0"/><text transform="translate(299.25 393.15) scale(0.9 1)" font-size="12" fill="#111" stroke="#111" stroke-width="0.25" text-anchor="end">0</text><text transform="translate(299.25 424.25) scale(0.9 1)" font-size="12" fill="#111" stroke="#111" stroke-width="0.25" text-anchor="end">-4</text>
<line x1="312.6" y1="378.5" x2="312.6" y2="399.6" stroke="#1a1a1a" stroke-width="0.95"/><line x1="309.7" y1="378.5" x2="315.5" y2="378.5" stroke="#1a1a1a" stroke-width="0.95"/><line x1="309.7" y1="399.6" x2="315.5" y2="399.6" stroke="#1a1a1a" stroke-width="0.95"/><line x1="307.1" y1="389" x2="317.9" y2="389" stroke="#1a1a1a" stroke-width="1.35"/><circle cx="312.9" cy="346.1" r="2.7" fill="#fff" stroke="#000000" stroke-width="1.0"/><circle cx="312.9" cy="376.1" r="2.7" fill="#fff" stroke="#000000" stroke-width="1.0"/><circle cx="312.9" cy="382.9" r="2.7" fill="#fff" stroke="#000000" stroke-width="1.0"/><circle cx="312.9" cy="391.4" r="2.7" fill="#fff" stroke="#000000" stroke-width="1.0"/><circle cx="312.9" cy="414.3" r="2.7" fill="#fff" stroke="#000000" stroke-width="1.0"/>
<line x1="329.7" y1="349.3" x2="329.7" y2="371.4" stroke="#a9a9a9" stroke-width="0.95"/><line x1="326.8" y1="349.3" x2="332.6" y2="349.3" stroke="#a9a9a9" stroke-width="0.95"/><line x1="326.8" y1="371.4" x2="332.6" y2="371.4" stroke="#a9a9a9" stroke-width="0.95"/><line x1="324" y1="360.7" x2="335.4" y2="360.7" stroke="#1a1a1a" stroke-width="1.35"/><polygon points="327.1,329.45 323.85,336.25 330.35,336.25" fill="#a9a9a9"/><polygon points="333.3,334.95 330.05,341.75 336.55,341.75" fill="#a9a9a9"/><polygon points="330,362.05 326.75,368.85 333.25,368.85" fill="#a9a9a9"/><polygon points="333.3,379.25 330.05,386.05 336.55,386.05" fill="#a9a9a9"/><polygon points="327.1,383.45 323.85,390.25 330.35,390.25" fill="#a9a9a9"/>
<line x1="347.5" y1="374" x2="347.5" y2="380.5" stroke="#b4b4b4" stroke-width="0.95"/><line x1="344.6" y1="374" x2="350.4" y2="374" stroke="#b4b4b4" stroke-width="0.95"/><line x1="344.6" y1="380.5" x2="350.4" y2="380.5" stroke="#b4b4b4" stroke-width="0.95"/><line x1="341.9" y1="377.1" x2="352.9" y2="377.1" stroke="#1a1a1a" stroke-width="1.35"/><polygon points="344.3,367.2 341.45,372.8 347.15,372.8" fill="none" stroke="#b4b4b4" stroke-width="1.0" stroke-linejoin="miter"/><polygon points="350.4,370.1 347.55,375.7 353.25,375.7" fill="none" stroke="#b4b4b4" stroke-width="1.0" stroke-linejoin="miter"/><polygon points="345,374.3 342.15,379.9 347.85,379.9" fill="none" stroke="#b4b4b4" stroke-width="1.0" stroke-linejoin="miter"/><polygon points="350.7,375.8 347.85,381.4 353.55,381.4" fill="none" stroke="#b4b4b4" stroke-width="1.0" stroke-linejoin="miter"/><polygon points="347.6,383.6 344.75,389.2 350.45,389.2" fill="none" stroke="#b4b4b4" stroke-width="1.0" stroke-linejoin="miter"/>
<line x1="364.7" y1="376" x2="364.7" y2="385" stroke="#4d4d4d" stroke-width="0.95"/><line x1="361.8" y1="376" x2="367.6" y2="376" stroke="#4d4d4d" stroke-width="0.95"/><line x1="361.8" y1="385" x2="367.6" y2="385" stroke="#4d4d4d" stroke-width="0.95"/><line x1="359" y1="380.4" x2="370.4" y2="380.4" stroke="#1a1a1a" stroke-width="1.35"/><polygon points="365,363.85 368.15,366.9 365,369.95 361.85,366.9" fill="#666666"/><polygon points="362.9,376.95 366.05,380 362.9,383.05 359.75,380" fill="#666666"/><polygon points="367.9,375.55 371.05,378.6 367.9,381.65 364.75,378.6" fill="#666666"/><polygon points="361.9,387.95 365.05,391 361.9,394.05 358.75,391" fill="#666666"/><polygon points="367.9,386.55 371.05,389.6 367.9,392.65 364.75,389.6" fill="#666666"/>
<line x1="382.5" y1="381.5" x2="382.5" y2="387" stroke="#000" stroke-width="0.95"/><line x1="379.6" y1="381.5" x2="385.4" y2="381.5" stroke="#000" stroke-width="0.95"/><line x1="379.6" y1="387" x2="385.4" y2="387" stroke="#000" stroke-width="0.95"/><line x1="376.4" y1="384.3" x2="388" y2="384.3" stroke="#000" stroke-width="1.35"/><polygon points="385.7,372.75 382.45,379.55 388.95,379.55" fill="#000000"/><polygon points="379.6,376.35 376.35,383.15 382.85,383.15" fill="#000000"/><polygon points="386.1,379.25 382.85,386.05 389.35,386.05" fill="#000000"/><polygon points="381.4,380.65 378.15,387.45 384.65,387.45" fill="#000000"/><polygon points="380.7,384.95 377.45,391.75 383.95,391.75" fill="#000000"/><polygon points="385.7,387.05 382.45,393.85 388.95,393.85" fill="#000000"/><polygon points="380,389.95 376.75,396.75 383.25,396.75" fill="#000000"/>
<text x="377.6" y="325.4" font-size="13" fill="#111" stroke="#111" stroke-width="0.3" textLength="14.8" lengthAdjust="spacingAndGlyphs">ns</text>
</g>
<g>
<circle cx="438.4" cy="338" r="3.9" fill="none" stroke="#000000" stroke-width="1.3"/>
<polygon points="438.4,351.3 434.3,358.9 442.5,358.9" fill="#a9a9a9"/>
<polygon points="438.4,369.2 434.7,376.2 442.1,376.2" fill="none" stroke="#a6a6a6" stroke-width="1.1" stroke-linejoin="miter"/>
<polygon points="438.4,385.7 442.4,389.6 438.4,393.5 434.4,389.6" fill="#666666"/>
<polygon points="438.4,403.1 434.3,410.7 442.5,410.7" fill="#000000"/>
<text x="452.9" y="341" font-size="10.3" fill="#111" stroke="#111" stroke-width="0.3" textLength="42.6" lengthAdjust="spacingAndGlyphs">Untreated</text>
<text x="452.9" y="358" font-size="10.3" fill="#111" stroke="#111" stroke-width="0.3" textLength="37.2" lengthAdjust="spacingAndGlyphs">Resovist</text>
<text x="452.9" y="375.4" font-size="10.3" fill="#111" stroke="#111" stroke-width="0.3" textLength="89.8" lengthAdjust="spacingAndGlyphs">Resovist (no tumor)</text>
<text x="452.9" y="392.6" font-size="10.3" fill="#111" stroke="#111" stroke-width="0.3" textLength="63" lengthAdjust="spacingAndGlyphs">Hyperthermia</text>
<text x="452.9" y="410" font-size="10.3" fill="#111" stroke="#111" stroke-width="0.3" textLength="58.2" lengthAdjust="spacingAndGlyphs">Combination</text>
</g>
</svg>
</body>
</html>
